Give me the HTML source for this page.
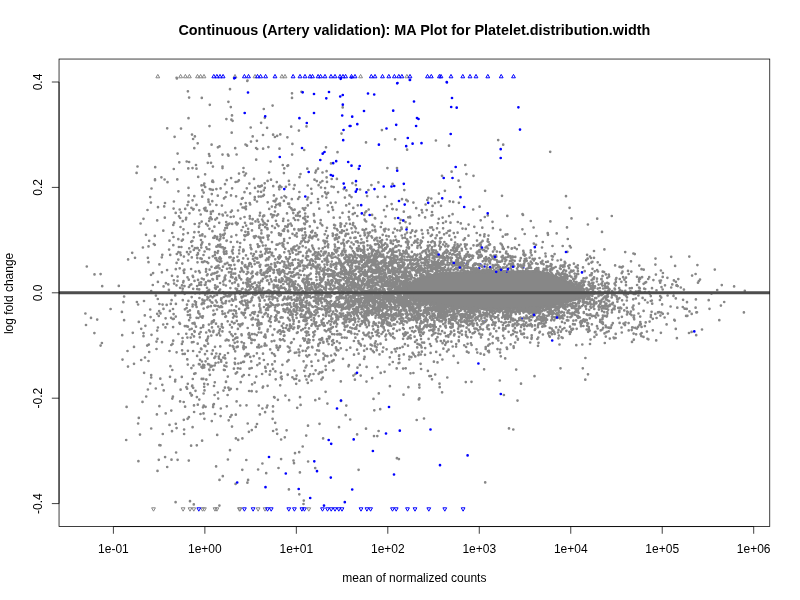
<!DOCTYPE html>
<html><head><meta charset="utf-8"><style>
html,body{margin:0;padding:0;background:#fff;}
svg{display:block;}
text{font-family:"Liberation Sans",Arial,sans-serif;}
</style></head><body>
<svg width="800" height="600" viewBox="0 0 800 600">
<rect width="800" height="600" fill="#fff"/>
<path d="M405 286L420 277L440 272L470 271L500 271L535 270L550 273L565 279L578 287L588 292L598 294L590 296L575 301L560 305L540 309L500 310L460 309L440 306L420 302L405 298Z" fill="#878787"/>
<path d="M486 259h0M466.8 263.8h0M480.4 264.7h0M484.5 266.5h0M473.2 269h0M479.2 268.3h0M507 271.5h0M523.2 267.7h0M484.7 321.8h0M522 318.5h0M370.9 247.9h0" stroke="#0000ff" stroke-width="2.7" stroke-linecap="round" fill="none"/>
<path d="M329.2 362.6h0M368.9 269h0M357.2 301.4h0M615.1 265.4h0M247.9 294.1h0M346.9 283.2h0M384 305.5h0M236.5 337.5h0M331.2 296h0M536 310h0M363.4 294.9h0M394.6 306.9h0M374.8 298h0M247.6 271.8h0M346.9 229.8h0M605.4 305.4h0M473.5 175.8h0M387.1 285.8h0M325.6 366.1h0M198.9 364.2h0M440.8 309.6h0M279.7 258.1h0M419.7 273.2h0M312.9 247.8h0M252.2 272.8h0M490 244.4h0M204.6 300.7h0M345.4 235.9h0M372.7 350.8h0M374.2 271.2h0M382.5 271h0M471.2 313h0M229.9 345.6h0M349.6 319.3h0M577.3 316.5h0M337.7 258.2h0M412.6 263.5h0M357.3 293.8h0M626 285.2h0M384.8 266.1h0M199.2 289.4h0M402.4 282.5h0M357.8 316.2h0M288 317.9h0M414.9 280.3h0M235.2 351.3h0M431 265h0M364.1 273.2h0M208.4 199.7h0M220.6 188.4h0M364.4 320h0M323.4 255.2h0M574.8 299.6h0M535 312h0M575.7 284.5h0M368.3 256.7h0M413.4 306.7h0M497.5 349.1h0M601.6 279.1h0M436 253.7h0M279.3 189.3h0M491.8 315.8h0M262.1 297.4h0M465.8 228.9h0M231.9 321.8h0M546.8 272.7h0M408.4 284.7h0M440.1 249.3h0M392.4 308.6h0M390.1 276h0M424.4 259.1h0M255.7 288.3h0M426.6 319.5h0M583.5 278.4h0M201.5 366.9h0M548.3 308.5h0M424.3 304.2h0M388.2 330.7h0M441.2 257.5h0M365 270.4h0M591.6 280.2h0M425.8 257.7h0M447.6 262.3h0M591.9 324.3h0M180.1 287.8h0M400.1 285.3h0M437.5 362.4h0M190 314.9h0M587.3 323h0M619.3 311.9h0M243 227h0M490.1 308.9h0M513 324.9h0M382.8 313.4h0M404.7 291.1h0M354.7 333.8h0M373.6 262.8h0M258.3 186.2h0M598.4 292.8h0M576.6 287.1h0M538.9 315.8h0M252 334.1h0M392.6 307.6h0M187.9 350.8h0M219.2 214.2h0M317.1 350.3h0M564.7 280.3h0M439.7 307.2h0M336.2 268.9h0M405.1 276.8h0M410.7 319h0M417.9 307.5h0M494.4 259.5h0M320 342.8h0M338.4 283.6h0M163.6 286.4h0M355 285.1h0M189.1 320.2h0M433.5 268.4h0M665 285.3h0M470.2 272.4h0M178.3 239.2h0M500 252h0M208.2 263.1h0M197 255.2h0M194.9 248.2h0M254.5 282.9h0M204.5 390.4h0M309.8 262.8h0M420.2 253.8h0M202.4 317.7h0M243.4 305h0M404.7 303h0M378.5 305.1h0M440.2 268h0M285.2 248.8h0M476.8 323.4h0M557.9 332.5h0M357.2 325.2h0M405.8 321.3h0M416.6 318.5h0M355.5 313.2h0M442 264.7h0M589.6 294.9h0M512.1 256.7h0M335.4 293.3h0M388.8 295.4h0M403.4 304.1h0M389.8 281h0M396.7 281.2h0M579 307.3h0M419.9 316.1h0M588.9 292.5h0M211.7 219.2h0M363.5 302.8h0M208 343.7h0M414.2 313.6h0M453.4 313.8h0M291.7 225.7h0M472.8 316.4h0M387 318.1h0M269.1 296.5h0M284.4 304h0M224.9 387.7h0M329.8 276h0M420.4 314.1h0M198 254.1h0M631.5 315.1h0M671.2 287.5h0M462.5 228.6h0M409.4 303.1h0M226.8 240.5h0M404.5 256.7h0M375.5 307.9h0M216.2 258.1h0M334.5 249.5h0M202.6 302.6h0M396.7 310.1h0M479.6 206.7h0M367.2 263h0M520.1 271.4h0M165.7 413.4h0M359 331h0M440.5 242.1h0M203.5 413.4h0M186.6 308.1h0M374 273h0M389.3 264.9h0M222.6 313.9h0M256.1 251.7h0M259.3 225.6h0M205 210.2h0M403.3 289.4h0M348.4 241h0M313.3 336.6h0M446.5 309.7h0M364.4 297.9h0M395.5 284.6h0M369.9 305.7h0M358.2 298.5h0M386.2 235.8h0M355.3 276.6h0M480.3 334.5h0M234.2 310.4h0M313.1 289.5h0M606.4 298.1h0M586.5 288.4h0M307 287.2h0M396.4 288.2h0M374.8 295.1h0M386.5 301.4h0M511.5 261.2h0M203.3 378.9h0M202.9 316.3h0M370.2 291h0M201.7 258.8h0M307.4 287.5h0M464.2 317h0M412.3 230.8h0M383.8 306.6h0M249.8 216.2h0M517.6 311.6h0M458 362.8h0M200.7 332h0M551.8 306.4h0M259.6 299.6h0M430.6 274.7h0M228.4 387.7h0M315.3 306.3h0M307.3 221.3h0M319.9 277.1h0M393.7 298.6h0M326.1 300.7h0M213.2 181.9h0M452.1 264.4h0M312.4 324.1h0M204.4 345.7h0M660.9 332.8h0M319.9 269.2h0M423.9 310.4h0M178.9 247h0M267.5 235.7h0M550.8 332.5h0M528.5 263.6h0M436.9 273.2h0M356.6 307.2h0M525.3 317.9h0M443.1 254.8h0M338.4 350.3h0M548.8 315.4h0M508.5 268.4h0M168.9 289.9h0M534.6 271.4h0M424.6 269.1h0M492 311.3h0M516.3 336.4h0M307.3 296h0M272.1 292.2h0M477 240.6h0M410.2 278.9h0M652 288.2h0M467.6 343.8h0M575.8 305.9h0M562.3 277.6h0M218.2 398.6h0M373.2 259.4h0M345.1 317.4h0M457.8 322.8h0M210.8 189.4h0M445.9 221.6h0M561.8 303.9h0M281.6 376.5h0M451.3 317.4h0M420.6 243h0M453.4 250.4h0M596.9 281.5h0M403.4 220.4h0M199.5 313.9h0M338.1 282.9h0M283.9 335.8h0M368.6 308.4h0M529.2 308.3h0M343.6 290.8h0M397.1 348.4h0M680.8 287.5h0M600 307h0M220.3 346.4h0M167.5 182.2h0M389.2 282.9h0M392 294.9h0M403.8 253.1h0M316.1 170.7h0M215 414h0M333.1 257.5h0M420 260h0M524.3 329.3h0M248.3 272.5h0M307.3 341.9h0M367.6 284.6h0M401 311.3h0M339.3 302.2h0M399.9 255.1h0M404.3 286.9h0M391.9 287.1h0M590 275.3h0M372.3 269.3h0M398.2 266.6h0M394.5 273.9h0M385.7 274.3h0M409.4 356.6h0M372.2 270.6h0M563.9 276.5h0M303.7 268.4h0M518.9 308.3h0M402.2 256.4h0M459.6 332.9h0M306 289.9h0M216.7 260h0M505 319.1h0M394.1 318.2h0M360.6 274.3h0M275.3 207.2h0M520.4 331.3h0M364.3 284.2h0M289.9 320.5h0M339 297h0M513.7 324.5h0M595.5 331.8h0M325.9 286.5h0M318.2 294h0M601.7 322.8h0M361.4 239.3h0M317.6 328.8h0M512.9 310.2h0M339.5 260.3h0M445.4 270.3h0M363.1 283.8h0M308.4 264.7h0M221.5 247.2h0M272.4 296.2h0M567.6 302.6h0M340 232.4h0M400.8 296.1h0M400.8 258.7h0M364.3 295h0M474.5 315.2h0M229.5 292.9h0M366.5 283.1h0M466.6 312.5h0M273.5 272.8h0M362 315.5h0M427.1 314.8h0M367.8 314.1h0M570.5 306h0M425.5 271.8h0M372.3 281.2h0M651.8 300.6h0M340 287.6h0M433.7 268.1h0M437.4 264.5h0M402.3 321h0M373.7 322.7h0M628.7 330.4h0M377.5 296.2h0M291.3 306.9h0M205.6 406.8h0M558.9 335.6h0M304.8 284.4h0M257 201.5h0M321.4 379.5h0M205.1 294.8h0M426.8 327.1h0M409.9 302.3h0M170 376.8h0M417.6 265.1h0M305.8 324.8h0M228.8 293.7h0M436.5 265.1h0M199.3 210.3h0M500.8 356.3h0M583.7 282.8h0M461.1 267.8h0M290.4 272.2h0M381.3 315.1h0M497.9 311.3h0M322.4 371.8h0M184.9 309.3h0M501.8 244.7h0M388 309.8h0M594.7 271.3h0M387.7 297.9h0M503.7 308.4h0M487 327.3h0M188.6 195.4h0M418.2 317.4h0M413.4 373h0M283.1 221h0M284.1 241h0M195.5 271.6h0M448.4 245.8h0M453.2 309.4h0M698 282.7h0M248.3 233.4h0M303.2 265.6h0M373.4 276.9h0M544 269.8h0M567 275.1h0M351.3 255.4h0M235.2 338.5h0M588.7 282h0M422.5 233.8h0M311.2 260h0M515.8 314.1h0M241.9 198.7h0M317.9 303.7h0M456.6 260.1h0M510.7 271.7h0M300.5 295.6h0M405.5 222.1h0M375.3 295.8h0M376.9 310.8h0M266.7 407.5h0M452.3 310h0M588.1 331.8h0M521.3 334h0M576.6 287.2h0M271.1 316.3h0M360.4 324.7h0M233.9 368.7h0M379.8 290.4h0M482.5 321.3h0M600.1 291.6h0M403.4 274.3h0M214.8 382.3h0M338.9 305.8h0M496.6 311.3h0M483 329.6h0M286.8 277.9h0M403.2 287.5h0M277.4 262.7h0M382.3 326.4h0M417.4 279.4h0M605.1 283.5h0M405.9 294.8h0M244.9 312.8h0M207.5 358.7h0M522.7 268.3h0M630.3 313.9h0M209.2 289.9h0M388.8 236.4h0M643.6 310.9h0M423.6 276.8h0M424 316.3h0M280.4 293.3h0M454.8 265.3h0M422.8 315.3h0M432 335.4h0M432.6 318.7h0M425 276.8h0M197 248.2h0M309.6 284.5h0M537.8 308.2h0M356.7 279h0M415.9 279.6h0M296.5 293.6h0M407.2 260.5h0M525.1 310.4h0M461 262.5h0M293.7 218.2h0M182.3 263.6h0M223.2 357.6h0M446.5 250.2h0M456.5 319.1h0M580.1 322.4h0M433.6 268.9h0M249.8 335.6h0M566.1 275.5h0M311.4 319.8h0M604.9 297h0M259.1 347.4h0M214 320.3h0M411.9 282.6h0M618.5 318.1h0M249.1 375h0M433.6 326.8h0M307.8 205.4h0M641.3 336.1h0M574 279.2h0M429.7 245.4h0M384.7 279.6h0M333.9 343h0M300.5 261.4h0M360.5 286.2h0M193.5 342h0M319.9 283.2h0M354.4 253.2h0M532.5 308.8h0M207.1 299.5h0M361.7 293.4h0M441.1 262.2h0M565.3 262.9h0M458.2 261.1h0M183.6 270.6h0M350.7 269h0M381.5 323.4h0M462.4 321.6h0M242.1 300.8h0M607.3 277.9h0M242.3 270.5h0M387.2 321.5h0M286 328h0M313.8 249.5h0M401.5 292.5h0M307.3 348.3h0M485.7 272.5h0M197.9 253.1h0M188.1 260.5h0M376 273.1h0M435.4 317.5h0M639.1 287.7h0M397.9 287.8h0M175.8 316.6h0M374.5 298.5h0M381.9 302.9h0M309 237.3h0M217.3 286.8h0M508.4 271.6h0M598.5 296.2h0M349.8 304.7h0M180.8 255.1h0M442.5 318h0M402.6 346.9h0M398.7 245.3h0M365.4 307.3h0M306.7 277.9h0M348.8 297.3h0M320.9 279.3h0M410.3 256.7h0M395.4 262.4h0M452.2 308.1h0M258.6 262.6h0M380.2 280.8h0M398.3 287.9h0M366.9 274.3h0M600.2 301.3h0M601.3 279.2h0M474.3 311h0M384.1 295.4h0M287.3 227h0M369.4 261h0M392.9 243.9h0M243.8 375h0M387.2 244.8h0M409.7 338h0M576.1 320.3h0M459.3 307.5h0M339.3 282.6h0M278.2 273.3h0M332.1 275.8h0M639 303.6h0M444.1 340.7h0M237.9 328.9h0M162.3 384.8h0M298.1 328.1h0M399.5 268.4h0M446.5 253.1h0M614.7 295.2h0M440.9 267.5h0M199 271h0M326.4 284.7h0M317.9 267.1h0M223.8 234.9h0M572.2 307.9h0M582.7 302.1h0M429.5 307.5h0M404.2 300.3h0M388.6 291.3h0M448.5 311.9h0M360.2 235.8h0M337.4 251h0M226.5 366.5h0M286.3 267.6h0M548.5 309.2h0M407 232.6h0M344.4 271.3h0M411.2 278.6h0M561.9 305.7h0M386.1 263.3h0M245.2 266.9h0M369.5 290h0M293.7 188.8h0M717.2 290h0M556.5 273.9h0M179 216.3h0M293.9 276.4h0M584.7 302.5h0M531.7 337.7h0M184.7 293.8h0M428.8 274.6h0M493.2 267.6h0M444.9 190.8h0M417.2 263.8h0M176.5 285.3h0M579.5 300.2h0M380.4 304.4h0M246.9 307.9h0M511.7 248.7h0M355.2 253.8h0M427 274.8h0M439.7 263.5h0M257.2 258.7h0M302.7 270.8h0M358.3 281h0M389.5 296.9h0M375.7 259.5h0M439.7 387.2h0M640.8 324.1h0M349.4 219.4h0M252.7 219.2h0M375.2 285.1h0M376.4 277.2h0M457 316.4h0M320.2 285.1h0M607.6 294.4h0M391.8 283.3h0M289.5 298.2h0M434.7 264h0M192.5 323.3h0M458.9 326.5h0M441.5 238h0M462.5 316.8h0M376.7 314.7h0M358.2 310.6h0M455.3 316.8h0M378 307h0M343.1 313.5h0M429.4 376.1h0M449.9 253h0M277.7 305.6h0M261.8 185.7h0M220.8 408.5h0M425.1 264.8h0M560.9 331.7h0M292.7 252.7h0M198.7 232.1h0M375.8 266.8h0M430.9 304.9h0M744.8 290.9h0M378.4 182.4h0M205.6 361.3h0M573.6 284.4h0M305.1 237.8h0M598.2 315.5h0M382.7 316.6h0M356.1 327.4h0M584.6 320.7h0M588.2 323.5h0M317.7 258.7h0M385.5 228.9h0M374 270.4h0M254.7 283h0M289.4 286.7h0M533.6 311.3h0M488.2 308.4h0M535.6 270h0M428.2 263.3h0M630.9 311.6h0M577.5 315.8h0M505.5 257.6h0M409.8 223.6h0M593.5 306.6h0M383.4 289.4h0M209.3 244.1h0M493.2 258.4h0M275.4 371.4h0M414.7 300.9h0M254.7 340.1h0M379.1 268.9h0M253 292.8h0M338.1 241.9h0M353.6 324.7h0M506.2 326.1h0M308.7 317.8h0M505.3 328.7h0M332.6 254.3h0M401.2 310h0M214 386h0M412.6 304.6h0M427.4 268.6h0M477.7 317.3h0M395.8 277.7h0M304.7 265.9h0M390.9 335.5h0M569.3 282.3h0M634.1 315.5h0M494.6 249.3h0M485.7 347.2h0M428.9 250.7h0M651.6 311.8h0M378.4 306.7h0M499.6 312.3h0M411.9 314.8h0M288.6 251.2h0M530.8 261.7h0M502.9 267.6h0M219.3 240.3h0M325.8 316.1h0M462.4 259.9h0M238.4 286h0M372 251h0M291.3 248.9h0M499 327.9h0M486.5 269.4h0M361.1 260.3h0M335.9 303.6h0M182.5 291.7h0M308.8 376.4h0M388.4 271.9h0M345.9 276.8h0M566.1 270.9h0M225.7 301.8h0M300.8 275h0M393.8 328.5h0M354.6 302.8h0M564.1 269.9h0M197.3 258.1h0M498.6 270.7h0M412 256.8h0M408.4 387.2h0M438.5 307.8h0M306.7 331.5h0M359.5 263.9h0M455.2 307.3h0M594.3 309h0M206.3 247.3h0M227.6 225.2h0M212.3 201.2h0M400.5 290.4h0M618.2 299.1h0M404.5 277.2h0M444.1 310.7h0M233.3 247h0M311.1 202.8h0M315.5 256.1h0M384.2 289h0M602 311.1h0M261.4 230.4h0M221.7 326.6h0M396.1 256.5h0M323.3 318.8h0M494.5 324.7h0M393.9 269.4h0M462.7 314h0M294.9 235.4h0M352.8 257.3h0M311.9 306.3h0M398.6 273.9h0M401.7 283.3h0M305.2 321.2h0M572.3 315.4h0M390 285.7h0M350.4 237.9h0M439.2 317h0M298.4 274.4h0M292.8 265h0M424.6 303.5h0M357.1 349.7h0M403.8 329h0M235.1 358.6h0M565.6 309.3h0M343.4 264.1h0M331.8 314.3h0M452.4 309.6h0M227.6 395h0M476.5 349.3h0M597.7 328.5h0M501 309.8h0M363 289.2h0M242.6 323.6h0M632.6 307.4h0M378.7 312.8h0M382.8 289.7h0M468.6 224.6h0M550.1 307.3h0M447.1 264.5h0M289.8 309.6h0M470.9 343.3h0M295.5 281.4h0M354.6 256h0M647.6 302.5h0M338.6 307h0M449.8 271.4h0M175.9 303.9h0M441.1 315.7h0M270.3 371.2h0M396.6 209.6h0M537.1 318.3h0M345.1 327h0M283.4 244.3h0M322.3 225.5h0M259.8 282.8h0M375.4 283.1h0M208.5 297.6h0M376 309h0M366.7 313.4h0M467.5 261.7h0M467.4 271.9h0M280.7 288.1h0M380.6 295h0M215.3 258.2h0M369.9 312.2h0M264.6 291.9h0M367 302.5h0M382.7 277.5h0M212.6 180.5h0M385.1 299.1h0M470.8 309.5h0M554.1 320.3h0M378.5 332.9h0M364.1 359h0M575.2 303.1h0M206.9 262h0M203.5 255h0M286.1 197.3h0M368.8 256.3h0M371.5 294.5h0M296.7 287.9h0M494.5 258.4h0M283.5 246.7h0M288.5 352h0M578.3 287.1h0M314.4 311.7h0M360.3 305.6h0M396.1 261.1h0M592.8 284.9h0M340.8 348.3h0M510.7 268.3h0M377.7 325.8h0M293.7 320h0M264.1 336.7h0M271.5 232.3h0M352.9 301.1h0M385.6 319.9h0M566.8 320.3h0M438 261.2h0M592.3 299.5h0M251.8 266.6h0M315.5 285.8h0M482.7 261.3h0M492.1 256.7h0M610 327.5h0M364.6 235.3h0M396.5 246.7h0M205.1 174.3h0M383.6 295.1h0M529 318.4h0M348.1 261.9h0M590 256.5h0M331.5 327.9h0M349.3 318.9h0M429.2 251h0M383 324.1h0M225.9 285.5h0M332.3 254.6h0M370.7 294.8h0M296.1 250.4h0M357.3 241.4h0M412.3 315.5h0M356.9 248.4h0M390.2 249.4h0M330 308.5h0M426.7 210.1h0M357.3 216h0M238.9 180.4h0M393.4 295.3h0M524.4 337.3h0M229.7 332.1h0M433.3 229.8h0M229.3 257.3h0M415.7 264.1h0M360.4 305.7h0M583.9 285.2h0M564.9 305h0M586.3 293.7h0M412 331.1h0M383 278.4h0M362.8 280.5h0M348.6 261.7h0M377.9 330h0M426.4 273.7h0M517.8 264.4h0M259.8 255.5h0M603.1 288.5h0M292.4 377.3h0M351.6 276.5h0M262 290.3h0M284.2 271.2h0M392.5 258.1h0M200.7 214.5h0M267.8 364.3h0M341.4 290.5h0M402.3 293.2h0M474.3 226.8h0M662.8 313.8h0M496.4 271.5h0M399.8 304.6h0M440.8 341h0M410.1 328.2h0M450.1 322.2h0M448.5 269.8h0M380.4 302.7h0M389.4 262.8h0M197.7 248.1h0M528.5 310h0M429.5 265.9h0M365.2 263.3h0M398.6 363.2h0M375.1 293.6h0M402.7 282.5h0M415 236.1h0M172.8 319h0M351.6 304.9h0M239.6 277.7h0M337.6 306.4h0M354.9 283.1h0M165 203h0M692.1 275.6h0M220.3 244.6h0M416.7 314.5h0M291.1 297.7h0M313.9 321.4h0M380.1 301.7h0M435.2 245.2h0M343.1 290.5h0M459.7 307.8h0M294.1 269.3h0M210 281.2h0M544.2 323.9h0M371.4 185.1h0M257.2 287.2h0M187.4 337.6h0M453.9 311.6h0M275 286.2h0M380.5 343.5h0M394.6 309.6h0M322.1 338h0M448.4 268.4h0M292.6 210.2h0M243.7 250.7h0M606.2 287.8h0M456.2 272.5h0M240.5 218.6h0M315.4 172.6h0M385.1 269.8h0M296.9 236.6h0M550.4 269.4h0M396.9 330.9h0M359 306.9h0M601.7 308.7h0M413.3 320h0M548.6 312h0M415 316.4h0M526.2 269.2h0M486.8 312.9h0M502.5 259.3h0M326.3 197.6h0M407.9 243.6h0M441.2 269.3h0M412.8 310h0M403.7 281.2h0M592.4 291.8h0M250.4 245h0M410.2 302.8h0M382.6 290.2h0M659.1 312.1h0M366 300.7h0M621.5 327.5h0M361.3 301.9h0M470.2 308.6h0M318.4 252.4h0M511.3 317.8h0M353.3 293.8h0M501 268.9h0M390.9 315.3h0M430.9 253.5h0M598.9 309.6h0M445.5 320.2h0M308.9 312h0M382.2 314.2h0M237.5 291.1h0M464.3 309.1h0M510.1 256h0M291.4 280h0M390.9 263.3h0M635.8 298.5h0M468.9 321.1h0M418.6 329.7h0M367.7 258.6h0M402 199.2h0M394.4 285.3h0M217.5 271.8h0M347.7 289.9h0M541.2 323.4h0M353.2 223.2h0M386 268.1h0M321.1 278.3h0M548.9 306.9h0M229.6 294.9h0M273.2 186.2h0M173.8 280.3h0M396.9 302.4h0M543.1 318.8h0M351.4 282.3h0M302.9 316.9h0M233.1 317.6h0M371.6 311.4h0M257.2 258.2h0M373.6 293h0M419.7 257.4h0M567.5 317h0M372.1 297.2h0M269.4 299.2h0M301.6 288.5h0M377.4 240.7h0M366.3 255.7h0M368.6 315.2h0M419.7 267.3h0M240.3 271.8h0M235.6 288.5h0M345.7 290h0M473.3 325.8h0M390.3 303.1h0M334.6 314.2h0M544.5 326.2h0M242.1 324.5h0M289.6 310.8h0M456.8 265h0M344.7 268.1h0M328.6 344.1h0M236.6 401.4h0M353.2 309.2h0M464.3 258.2h0M172 275.8h0M391.1 241.8h0M262.4 408.5h0M652.8 330.3h0M473.5 309.7h0M412.3 282.5h0M666.6 324.4h0M232.7 249.8h0M521.4 325.1h0M481.4 316.8h0M296.5 352.5h0M447.9 306.2h0M309.1 305.3h0M426.9 315h0M377 331.3h0M328.9 315.6h0M244.8 301.2h0M319 290.7h0M390.1 276.1h0M439.2 307.2h0M271.5 304.3h0M434.8 265h0M289.7 268.8h0M379 295.1h0M351.5 292.8h0M410.6 301.9h0M375 244.3h0M336.4 316.2h0M542 320.6h0M365.9 299.9h0M491.1 268.6h0M545.7 318.1h0M357.6 294.3h0M338 287.2h0M392.3 265h0M461.1 318.9h0M540.7 318.4h0M467.3 254.1h0M322.2 261.6h0M425.7 305h0M342.3 271.3h0M300.4 243.5h0M311.2 188.8h0M506.3 251.7h0M408.6 320.3h0M340.5 225.5h0M256.1 273.8h0M339.4 284.6h0M274.1 287.2h0M614.6 283.7h0M491.9 309.8h0M182.7 341.7h0M305.6 296.1h0M365.2 297.4h0M267.4 405.5h0M378.1 293.6h0M557.1 312.8h0M503.9 272h0M229.5 310.5h0M590 315.1h0M367.6 245.4h0M365.2 276.1h0M188.9 417.2h0M356.7 295.1h0M384.6 231.3h0M382.1 245.9h0M302 307.4h0M187.3 359.4h0M527.5 318.1h0M213.4 310.5h0M475.2 314.6h0M400.6 219.8h0M503.1 335.8h0M467.4 261h0M359.7 285.6h0M334.7 353.8h0M597 278.7h0M467.3 264.1h0M376.6 280.3h0M543.6 264.3h0M231.7 305h0M266.7 270.9h0M503.2 313.5h0M528.5 309.3h0M389.1 316.1h0M294.6 185.2h0M284.8 273.6h0M307.3 318h0M388.1 300.8h0M428.4 197.8h0M211.1 365.9h0M455.3 255h0M275.9 317.6h0M251.7 391.2h0M452.8 315.1h0M582.7 297.7h0M196.5 204.9h0M414.7 312.3h0M385.8 282.5h0M352.7 256.5h0M329.2 338.5h0M382.6 351.7h0M650.9 315.1h0M205 354.2h0M584.7 271.2h0M273.1 304.9h0M406.9 247.5h0M542.9 334.5h0M339.4 292.9h0M194.7 224h0M180.3 252.7h0M583.8 312.2h0M464 263.1h0M631.8 288.1h0M498.3 315.3h0M390.1 324h0M423 334h0M380 297.4h0M395.6 299.6h0M510.1 310.2h0M600.7 330.4h0M589.9 283.8h0M262 254.8h0M549.2 335.8h0M275.3 265.4h0M399.2 359.1h0M363.3 309.4h0M464.8 311.1h0M296.4 304.9h0M462 318.6h0M418.5 305.8h0M548.2 333.4h0M550.9 312.4h0M379.9 241.6h0M423.5 322.4h0M434.4 321.2h0M351 298.6h0M636.1 334.3h0M469.2 256.8h0M357.4 289.9h0M425.2 325.4h0M259.2 329.1h0M465.7 313.8h0M540 309.1h0M305.2 219.4h0M351.6 262.8h0M355.8 274.2h0M361 286.7h0M370.7 306.3h0M413.8 332.1h0M412.5 298.8h0M406.3 269.1h0M403 291.2h0M252.8 276.2h0M537.6 317h0M283.3 328h0M430.3 324.6h0M550.1 311h0M247 290.9h0M401 254h0M562.7 315.4h0M212.4 231.2h0M337.5 315.6h0M563.6 277.9h0M481.8 265.7h0M374.1 298.8h0M314.5 253.9h0M505.9 308.9h0M231.9 210.7h0M364 275.2h0M405.5 267.9h0M205.5 207.9h0M295.1 287.4h0M289.9 253.9h0M248.2 232h0M453.6 355.9h0M329.3 284.3h0M366.7 275.9h0M265.6 337.6h0M509.7 315.6h0M497.9 266.2h0M476 308.1h0M501.6 272.4h0M400 265.7h0M262.7 387.6h0M278.7 347.7h0M337.1 331h0M584.3 298.9h0M648.4 339.3h0M326.9 339.2h0M404.1 307.7h0M399 355.9h0M302.7 235.5h0M383.7 273.2h0M597 326.2h0M563.6 305.4h0M295.2 220h0M232.6 260.3h0M355.6 308.7h0M459.4 252.1h0M285.3 226.3h0M283.8 298.8h0M590.4 286.1h0M468.3 316h0M270.3 302.3h0M386.2 274.7h0M513.1 270.7h0M307.5 276.6h0M391.9 276.7h0M380.7 276.6h0M440 311.7h0M364.4 257.1h0M556.3 275.1h0M324.4 289.1h0M278.7 330.9h0M303.5 305.4h0M209.3 249.3h0M355.4 337.7h0M552.6 312h0M541.9 307.8h0M352.7 263.3h0M350.1 270.1h0M429.8 304.8h0M435.9 250.6h0M411.4 304.1h0M422.1 342.5h0M674.3 319.9h0M404.4 275.8h0M234.7 362.8h0M473.5 265h0M427.7 308.4h0M484.4 259h0M408.6 314.5h0M366.1 294.9h0M383.3 255.8h0M436.5 308.6h0M423.4 262.8h0M614.1 338.3h0M315.4 261.8h0M340.4 296.2h0M417.3 299.8h0M406.3 288.9h0M305.3 327.8h0M407.1 298.3h0M392.8 277.8h0M231 276.9h0M366.9 298.9h0M245 236.1h0M238.8 260.4h0M390.8 289.9h0M321.8 290.7h0M516 311.5h0M433.3 252.2h0M354.5 292.3h0M203 292.8h0M485.7 261.2h0M331.3 319h0M341.2 313.5h0M316.8 181.1h0M282.6 270.3h0M391 305h0M404.3 284.4h0M341.9 337.6h0M574.5 284.8h0M398.4 315.8h0M361 345.6h0M570.7 332.1h0M385.4 315.6h0M309 328.4h0M221.2 298.3h0M307.3 267.4h0M349.3 203.8h0M399.3 289.5h0M535.1 321h0M376.1 293.6h0M237.7 223.6h0M215 252.2h0M601.5 301.7h0M440.1 270.7h0M306.5 335.6h0M258.1 324.5h0M362.6 257h0M366.4 306.5h0M492.9 228.2h0M219.7 261.8h0M245.9 209.2h0M317 310.4h0M479.9 313.5h0M573 284.7h0M347.1 301.2h0M261.1 291.1h0M273.5 297.4h0M335.4 283.1h0M292.3 313.9h0M308.2 256.4h0M638.5 313.5h0M380.2 246.9h0M388.2 296.8h0M176.6 262.9h0M276.8 182.1h0M329.2 296.6h0M355.6 237.7h0M383.9 307.3h0M302.9 291.2h0M412.3 230.3h0M514.2 266.3h0M327.5 305.6h0M571.4 329h0M604.1 272.1h0M213.3 404.9h0M384.6 276.4h0M347.7 264.4h0M602.3 329.5h0M514.7 247.7h0M464.4 268.3h0M438.3 333.6h0M553.7 268.1h0M356.4 328.8h0M232.9 259.9h0M455.1 308.7h0M501.6 256.9h0M340.5 272.8h0M427.8 310.3h0M467.3 314.6h0M376.4 264.5h0M329.2 312.1h0M305.1 216.5h0M422.3 314.8h0M392.6 280.7h0M192.1 386.2h0M336.9 297.4h0M301.2 330.3h0M391.2 310h0M237.4 341.9h0M558.1 306.8h0M424.9 271.8h0M429.6 274.5h0M590.2 302.9h0M404.3 298.2h0M389.1 263.2h0M406.3 297h0M638.1 326.8h0M337.1 281.1h0M300.1 302.9h0M314.7 297h0M402.5 275.8h0M160.3 378.7h0M316.3 236.5h0M624 294.3h0M414.3 318.5h0M396.6 259.6h0M242.5 313.4h0M355.5 373.9h0M481.4 318.6h0M555.2 307.5h0M231.4 236.7h0M267.6 280.4h0M588.5 294.6h0M402.8 290.2h0M375.5 287.6h0M365.4 317h0M516.5 310.7h0M290.3 265.8h0M558 308.7h0M358.4 301.3h0M403.9 286h0M401.8 302.1h0M607.3 312.1h0M275.9 277.6h0M370.7 290.4h0M335.1 267.6h0M387 282.8h0M433.5 334.1h0M205.4 210.5h0M197.1 286h0M393.6 293.4h0M194.9 301.4h0M357.7 310.6h0M467.1 272.3h0M229.7 268.2h0M578.5 301.3h0M348.5 366.3h0M366.9 263.7h0M394.7 284.8h0M449.1 216.1h0M299.4 192h0M214.5 237.7h0M398.3 298.3h0M220.2 335.5h0M390.3 256.9h0M445.9 319.6h0M386 276.4h0M270.7 267.5h0M261.4 233.4h0M307.3 260h0M337.5 273.5h0M223.8 251.9h0M383.6 301h0M447.5 316h0M223.9 249.5h0M448.2 335.4h0M640 291.4h0M206.3 340.4h0M477.3 352.6h0M420.9 354.5h0M172.2 233h0M502 195.8h0M364.4 251.5h0M677.7 286.1h0M390.6 289.4h0M393.3 248.5h0M347.6 283.2h0M263.1 386.6h0M340.4 261.3h0M223 266.7h0M336 314.7h0M311.4 361.7h0M621.7 273.2h0M396.4 300.9h0M295.3 300.7h0M249.8 218.6h0M621.8 332.5h0M602.6 281.6h0M299.4 352.5h0M438.2 264.9h0M408.8 319.5h0M209.4 244.5h0M230.7 217h0M375.1 290.1h0M351.8 287.5h0M468.6 352.6h0M622.2 291.1h0M401.9 297.1h0M430.1 227.5h0M438.1 261.1h0M419.9 308.2h0M526.3 310h0M576.6 282.2h0M404.3 308.3h0M573.9 263.7h0M488.8 261.5h0M503.8 248.9h0M429.5 314.1h0M214.9 236.1h0M364 247.2h0M205 236.5h0M468.1 271.3h0M368 260.5h0M290.1 303.3h0M416.2 208.2h0M401.6 298.7h0M368.2 314.4h0M374.8 298.7h0M382.4 268h0M593 287.1h0M412.5 270.1h0M496.3 331.2h0M313.5 374h0M301.7 306.9h0M453.2 201.9h0M407.7 201.2h0M293.7 286h0M286.7 309.4h0M453.5 312.4h0M231.9 327.4h0M189.6 329.5h0M234.6 323h0M432.6 325.2h0M305.7 293.9h0M492.9 314h0M432.6 269.2h0M334.4 228.1h0M473.8 315.1h0M471.8 322.4h0M417.6 305.8h0M355.3 269.8h0M464.5 315.4h0M261 196.6h0M382.2 280.5h0M414.4 278.2h0M190.3 317.6h0M583.4 300.1h0M352.2 273.9h0M382.8 296.4h0M229.3 390h0M291 327.1h0M592.2 289h0M376.7 350.2h0M417 259.2h0M334.2 288.4h0M599.2 305.3h0M624.3 310.4h0M551.3 272.6h0M323 292.9h0M371.7 261.4h0M288.9 180.9h0M413.5 303.3h0M390 294.9h0M469.9 331.9h0M588.8 328.8h0M524.1 325.5h0M342.3 286.5h0M343.8 274.4h0M203.8 279.4h0M366.1 272.1h0M278.1 294.2h0M440.4 247.2h0M607 305.8h0M460.9 322.3h0M273.1 368.9h0M371.9 333.1h0M421.9 241.4h0M434.3 261.7h0M347.5 312.6h0M311.5 380.5h0M473.2 256h0M277.9 294.8h0M592.4 285.2h0M411.3 275h0M368.6 298.1h0M391.6 250.9h0M368.1 277.4h0M696.4 312.4h0M377.7 196.8h0M195.5 373.3h0M233.7 258.1h0M369.1 322.3h0M207 287.8h0M213.5 330.9h0M578.2 303.1h0M248.5 334h0M351.4 264.8h0M379.4 280.9h0M329.4 295h0M374.8 256.8h0M451.1 327.7h0M457.8 261.8h0M634.2 319.3h0M279.7 243.5h0M302.3 300.2h0M358.6 288h0M543.1 317.7h0M436.7 265.2h0M400.8 281h0M401.3 293.1h0M338.8 299.2h0M173.2 340.7h0M534.8 312.6h0M279.6 255.4h0M315.9 323.6h0M333.1 340.1h0M383 300.6h0M278.9 258.8h0M335.7 292.6h0M496.6 260h0M328.3 303.3h0M378.8 290h0M387.9 314.1h0M322.8 377.7h0M640.3 322.1h0M519 271.8h0M327.8 235.8h0M282.9 299.9h0M440.1 354.9h0M348.4 272.6h0M282.4 287.8h0M381.3 325.9h0M276.1 280.9h0M419.5 272.4h0M334.1 303.5h0M574.7 308.4h0M368.4 270.6h0M398.5 286.1h0M294.8 352.8h0M453.8 315.2h0M332.4 280.2h0M392.2 252.9h0M406.3 288h0M364.5 334.8h0M522.4 309.6h0M569.9 275.7h0M481.1 308.5h0M425.2 348.1h0M537.7 312.1h0M237.1 389.1h0M487.7 329h0M357 266.6h0M386.8 308.7h0M175.1 381.4h0M524 265.6h0M213.5 321.8h0M474.2 332.8h0M406.8 315.8h0M659.9 300h0M389.3 306.8h0M611.7 297.4h0M354.8 213.1h0M252 230.4h0M358.9 266.9h0M465.9 331.8h0M277 291.9h0M266.9 276.3h0M255.4 290.4h0M366.2 302.3h0M650 293.7h0M594.1 302.3h0M241.6 312.7h0M558.4 338.3h0M435.2 264.6h0M436.2 351.9h0M347.9 295h0M381.2 318.5h0M246.6 274h0M381.6 267.6h0M562.6 265.6h0M393 283.9h0M334.9 239.6h0M282.5 245.4h0M573.9 306.3h0M354 280h0M434.9 326.4h0M223.7 297h0M351.4 284.6h0M498.8 261.7h0M326.5 293.9h0M222.1 307h0M526.7 316.3h0M180 323.8h0M442.1 269.7h0M188.9 287h0M260.4 264.8h0M567.6 276.7h0M454.5 334.3h0M298.5 248.4h0M352.9 251.1h0M344.5 262.9h0M438.9 193.6h0M404.4 280.8h0M400.1 297.7h0M437.2 269.5h0M408.4 241.5h0M533.3 271.5h0M486.8 269.5h0M466.2 267.5h0M230.8 212h0M259.3 227.9h0M452.9 266.5h0M440.2 310.6h0M255 187.9h0M333 304.8h0M171.1 317.8h0M324.5 264.6h0M337.6 230.3h0M379.8 237.8h0M416 303.3h0M210.9 306.2h0M261.2 280.8h0M306.5 365.5h0M260.3 308.3h0M376.7 284.3h0M414.7 254.6h0M295 268.7h0M220.1 283h0M301.8 311.1h0M371.3 275.7h0M396.7 277.9h0M478.3 257.9h0M173.5 237h0M555.6 317.1h0M389.9 386.2h0M401.8 258.6h0M691.6 331.9h0M513 334.1h0M401.5 317.2h0M252.1 384.3h0M342.1 293.1h0M444.5 308.8h0M527 326h0M504.8 316.7h0M433.8 310h0M458.5 312.4h0M362 292h0M373.4 292h0M349.4 321.8h0M315.3 301h0M489 352.2h0M214.6 395h0M498 338h0M350 223.9h0M521.9 271.6h0M398.2 315.4h0M524.7 234h0M463.8 308.1h0M254.7 199.7h0M355.6 278.4h0M372.9 250.9h0M272 242.1h0M514 320.2h0M358.5 284.9h0M365.2 319h0M630.5 291.4h0M393.7 259.1h0M231.6 415.1h0M502.7 255.8h0M615.7 333.9h0M372.5 298.9h0M352.9 225h0M387.5 253.1h0M367 264.3h0M257.3 323.7h0M212.2 181.6h0M362.4 257.6h0M377.8 333.4h0M396.7 368.4h0M381.8 271h0M468.8 329.7h0M627 297.3h0M583.2 304.8h0M397 281.4h0M246.5 405.3h0M369.4 311h0M442.4 309h0M201.1 285h0M380.5 343.9h0M489 329.3h0M416.7 275.5h0M434 257.7h0M257.3 365.1h0M306.1 312.3h0M307.3 281.3h0M271.3 268.4h0M199.6 352h0M305.1 317.2h0M442.2 317.6h0M374.2 262.7h0M248.1 280.3h0M425.8 276.9h0M216.6 266.6h0M431.3 330h0M575.8 282h0M378.6 264h0M599.9 265h0M557.2 314.1h0M375.4 261.1h0M374.3 240.2h0M368.5 235.6h0M280.6 273.1h0M333.4 370.3h0M215.4 356.5h0M432 234.9h0M324.5 251.9h0M491.3 316.5h0M290.5 293.2h0M301.3 229h0M427.3 249.1h0M364 315.6h0M213.1 407.1h0M608.1 309.7h0M232.5 277.4h0M350.1 314.5h0M498.2 266.7h0M538.8 319.3h0M343.3 297.7h0M328.1 192.8h0M466.2 335.8h0M287.7 374.8h0M434.6 259.7h0M203.1 364.8h0M376.2 288.1h0M307.8 216.8h0M474 309.3h0M220.6 236.6h0M312.1 288.9h0M273 411.5h0M258.8 289.9h0M486.6 246.6h0M641.6 333h0M371 298.4h0M221.2 306h0M382.3 286h0M656.5 290.3h0M217 309.5h0M557.6 260.5h0M587.7 258.7h0M563.3 307.8h0M484.3 314.5h0M369.5 269h0M294.3 249.5h0M513.5 311.9h0M398.7 302.3h0M187.5 277.3h0M287.7 243h0M327.3 341.4h0M342 230.4h0M350.2 267.6h0M337.1 234.7h0M556.9 308h0M264.5 345.6h0M499.7 267.1h0M340.1 316.3h0M462.1 265.4h0M327.4 296.9h0M210.9 214h0M199.8 337.3h0M379.9 269.6h0M355 309.2h0M482.1 334.7h0M347.3 279.7h0M200.5 316.4h0M460.7 316.8h0M262.1 374h0M376.9 309.7h0M660.9 270.5h0M341 305.2h0M195.9 304.2h0M607.1 309h0M445.9 327.6h0M697.4 265.1h0M418.5 264.5h0M277.4 287.6h0M367.7 281.3h0M425.5 301.8h0M331.1 305h0M375 265.4h0M422.3 212.5h0M199.3 250.3h0M523 309.2h0M259.8 237.9h0M243.5 296.3h0M191.8 257.4h0M217 294.9h0M372.3 295.7h0M352.9 295.8h0M471.1 311.3h0M438.8 256.5h0M569.4 331.9h0M383.4 276.4h0M252.8 317.8h0M450.3 270.6h0M538.1 324.9h0M557 307.7h0M334.3 276.2h0M447.3 310.5h0M209.9 374.8h0M507.4 316.1h0M518.6 324.3h0M355.2 299h0M430.8 274.8h0M502.3 309.7h0M441.9 272.9h0M425.5 250.4h0M222.9 215.5h0M522.5 214.2h0M391.6 204.1h0M325.8 369.8h0M579.3 285.5h0M611.6 325.3h0M469.9 308.6h0M400.8 268.1h0M480.6 353.7h0M365.4 303.3h0M434.8 315.3h0M451.2 268.7h0M259.4 324.6h0M394.7 255.5h0M309 334.8h0M563.2 271.3h0M569.6 272.7h0M383.2 302.1h0M456.7 322.7h0M210.5 217.3h0M506.9 310.4h0M317.6 291.7h0M400.1 287h0M390.3 281.2h0M303.3 218.2h0M259.6 265.8h0M280.7 256.6h0M390.8 263.7h0M419.1 266.2h0M465.2 314.5h0M279.9 339.4h0M452.8 317.6h0M390.7 260.1h0M242.2 376.5h0M543 272.4h0M278.9 291.1h0M401.5 310.7h0M403.3 318.7h0M321.8 309.3h0M317.4 272.8h0M429.9 253.9h0M299.2 266.1h0M363.3 252.7h0M488.5 235.6h0M288.4 296.5h0M257.3 347.2h0M319.2 272.4h0M346.5 283.3h0M334.2 273.5h0M481.2 242.5h0M552.1 273.9h0M282.4 243.2h0M670.6 306.5h0M447.9 307.1h0M452.7 310.7h0M378.2 303.6h0M389.9 288.3h0M376.5 270.4h0M439.5 256.6h0M328.5 281.7h0M186.2 217.8h0M447.3 377.5h0M416.1 275.5h0M314.5 179.7h0M512.9 263.4h0M423.8 270.6h0M225.5 197h0M388.2 296.1h0M571.8 304.1h0M487.8 215.4h0M341 334.5h0M439.7 306h0M390.7 243h0M468.3 325.2h0M343.7 189.1h0M432 252.6h0M373.4 261.7h0M676.8 285.2h0M335.1 225.3h0M240.9 204.2h0M254.4 293.2h0M425.3 320.8h0M411.6 276h0M279.3 292.7h0M378.9 267.3h0M315.4 267.6h0M538.2 337.6h0M467.3 262.6h0M318.9 248.5h0M447.5 260.6h0M382.4 297.2h0M345.6 300.7h0M347.4 285.9h0M460.9 263.5h0M578.8 303.5h0M545.4 269.2h0M200 235.6h0M364.9 322.7h0M580.2 287.2h0M375.3 311.9h0M485.5 315.4h0M423.9 332.5h0M235.2 279.2h0M288.2 291h0M418.5 304.7h0M353.2 271h0M252.7 325h0M531.7 335.3h0M453.5 248h0M385.7 292.3h0M299.5 229.7h0M633.8 339.7h0M329 282.3h0M333 285.5h0M383.2 288.5h0M395.4 271.2h0M395.1 260.8h0M196.9 397.1h0M488.7 313.8h0M423.4 304.2h0M545.6 321.7h0M249.1 391h0M410 216.8h0M340.4 292.8h0M361.8 323.7h0M227 268.8h0M263.1 224.8h0M455.2 264.3h0M380.6 281h0M258.9 312.1h0M507.2 265.5h0M465.4 321.3h0M257.9 319.8h0M293.3 213.1h0M364.6 356.9h0M405.3 303.7h0M471.6 345h0M356.6 269h0M392.2 284.7h0M216.8 334.9h0M347.2 279.5h0M522.6 334.2h0M419.4 271.8h0M448.8 310.9h0M294.9 290.2h0M197.7 343.7h0M534.9 258.8h0M381.7 222.9h0M441.9 308.4h0M397.9 269.1h0M378.1 298.7h0M441.3 321.4h0M341.1 306.1h0M390.1 334.2h0M406.4 269.9h0M406.5 311.4h0M258.8 405.6h0M349.7 261.9h0M349.4 254.8h0M288.6 360.1h0M594 257.8h0M356.9 309.8h0M247 355.1h0M285.4 311.9h0M523.9 333.7h0M343.6 308.8h0M395.6 315.2h0M399.1 266.9h0M328.2 268.8h0M496 255.4h0M265.8 312.8h0M460.5 265.5h0M207.3 291.7h0M217.7 286.8h0M164.8 217.7h0M396.8 271.3h0M341 400.9h0M371.8 310.2h0M413.5 268.5h0M598.6 284.6h0M289.8 257.2h0M375.9 276.8h0M406.1 317.5h0M309.1 275.2h0M421.6 347.4h0M380.1 299.2h0M324.2 288.2h0M366.3 211.3h0M386 339.7h0M319.4 264.9h0M339.9 217.6h0M360.2 298.5h0M378.9 322.7h0M366.9 348.9h0M570.7 281.6h0M318.2 308.4h0M436.9 268.1h0M267.8 237h0M369.3 281.5h0M507.7 317.9h0M333.6 305.1h0M457.8 313.5h0M393.3 298.3h0M395.3 274.9h0M464 267.1h0M301.8 262.4h0M272.1 252.9h0M325.1 192.4h0M348.2 299.4h0M268.6 290h0M193.2 387.8h0M558.5 316.4h0M430 254.8h0M523.8 321.3h0M277.8 244.6h0M231.3 274.6h0M579.5 298.7h0M308.5 308.3h0M597.4 293.5h0M569.8 280.8h0M279.6 292h0M592.1 316.2h0M643.6 283.8h0M328.4 293.8h0M195.5 304.8h0M284.1 239.1h0M384.8 263.6h0M207.6 338.5h0M358 310.8h0M391.5 308.9h0M221.8 324.2h0M305.8 306.6h0M326.6 171.2h0M421.1 329.5h0M374.4 289.3h0M573.9 313.1h0M434.4 329.4h0M403 276.8h0M579.5 317.3h0M218.1 245.2h0M199.3 333.9h0M403.1 368.6h0M255 282.7h0M369.8 267.5h0M324.9 252.3h0M487.6 241.3h0M484.6 318.1h0M559.5 305.2h0M398.6 292.3h0M550.6 312.2h0M598.5 306.4h0M377.1 261.1h0M485.9 271.8h0M303.1 338.4h0M297.1 267.7h0M340.6 286.1h0M306.7 297.6h0M569.4 281.5h0M593.6 304.5h0M587 291h0M614.5 308.7h0M361.4 290.6h0M450.9 331.6h0M368.4 291.1h0M370.6 261.9h0M371.8 294.6h0M506 253.2h0M287.6 303.7h0M593.6 304.2h0M328.5 211.9h0M182.7 354h0M644.9 326.1h0M291.4 263.3h0M476.4 268h0M575.7 283.3h0M344.2 323.8h0M324.9 243.3h0M173.6 314.1h0M351.2 255.2h0M350.7 320.7h0M391.3 308.2h0M376.2 289.8h0M338.2 306.5h0M354.3 294.6h0M412.7 327.3h0M561 259.8h0M429.5 255.1h0M192.6 200.3h0M616.4 278.1h0M453.2 316.6h0M315.6 354.4h0M440.7 309.8h0M350.2 278.1h0M265.2 334.6h0M234 349h0M272.8 215h0M348.3 233.9h0M489.5 267.8h0M502.9 325.1h0M244 361.8h0M347 300.5h0M340.5 285h0M401.4 284h0M689.5 311.4h0M312.8 254.8h0M379.4 274.3h0M505.2 358.4h0M449.4 235.7h0M327.8 308.3h0M355.9 228.3h0M270.4 267.2h0M350.9 275.7h0M304.2 297.8h0M421.4 262.6h0M403.5 302.4h0M347.3 300.8h0M415.3 356.4h0M410.9 279.4h0M448.3 258.4h0M456.8 313.5h0M392.3 266.6h0M341.2 285.9h0M482.9 321.3h0M350.9 296.8h0M387.9 293.5h0M368.8 303.1h0M207.3 307.3h0M289.2 330.7h0M478.8 312.3h0M490.5 311.5h0M578.2 274h0M661 280.5h0M177.5 280.9h0M255.8 236.2h0M383.6 270.2h0M329 269.4h0M288.5 309.5h0M442.1 392.3h0M273.7 293.1h0M191.4 368.1h0M364.4 313.6h0M387.7 300.4h0M556.7 273.9h0M175.7 212.9h0M360.3 249.4h0M477.5 264.3h0M363.8 281h0M489.9 311.5h0M508.6 331.8h0M363.8 264.3h0M368.8 323.1h0M408.3 268.1h0M359.3 276h0M341.4 315.1h0M691.7 313.9h0M330.8 316.3h0M444.6 316h0M411.9 251.9h0M213 279.6h0M440.8 309.1h0M542.2 316.7h0M224.8 370h0M357.8 283.3h0M204 303.4h0M373.4 298.9h0M271.1 292h0M594 251h0M330.7 202.9h0M464.6 259.9h0M209.2 364.6h0M383.9 229.7h0M399.8 323.5h0M405.1 298.4h0M303.4 320.7h0M308.7 282.8h0M288.8 278.4h0M593.6 279.1h0M340.6 226.8h0M342.3 252h0M356.7 258h0M372.4 307.1h0M410.1 310h0M521.8 334.1h0M456.8 322.8h0M661.2 297.4h0M284.2 335.6h0M389.7 324.8h0M488.9 350.9h0M291.6 285.9h0M538.8 310.7h0M675.1 265.9h0M420.3 314.5h0M253.9 254h0M626 277.7h0M480.7 220.3h0M664.6 317.5h0M446.9 305.7h0M581.4 285.5h0M430.9 316.6h0M200.8 328h0M351.4 272.9h0M358.5 295.9h0M292.6 317.2h0M303.7 278.8h0M432.1 262.4h0M518.2 310.9h0M168.3 284.4h0M620.1 290.1h0M439.1 245.7h0M247.6 268.7h0M472.8 320.6h0M232.9 253.4h0M203.3 325.4h0M513.6 310.5h0M479.5 320.6h0M556.2 274.3h0M327 269.8h0M373.7 307.2h0M378.6 314.8h0M347.5 278.4h0M375.2 304.5h0M459.7 253.8h0M565.3 307.4h0M264.2 215.7h0M254.2 236.7h0M413.7 317h0M450.1 315h0M237.1 372.3h0M162.6 304.6h0M529.5 308.8h0M252.1 312.8h0M631.6 292.8h0M167.1 270.1h0M517.8 339.7h0M443.6 319.4h0M365.5 221h0M421 270.5h0M263.9 360h0M198.8 226.8h0M409.7 308.8h0M265.5 248.9h0M454.1 335.4h0M265.8 265.7h0M358.2 277.6h0M365.2 298.9h0M394.6 252h0M365.6 319.7h0M406 310.3h0M548.4 266.5h0M299.4 247.2h0M283.9 173.1h0M403.8 354.4h0M250.6 288.8h0M452.6 327.1h0M393.3 328.8h0M277.4 294.5h0M308.5 339.4h0M402.2 282.4h0M202.4 234.4h0M387 277.6h0M358.6 303.8h0M233.7 273.6h0M323.9 272.5h0M419.9 269.7h0M462.1 314.7h0M236.3 235.1h0M366.2 221.5h0M586.1 302.2h0M370.3 245.7h0M387.5 284.9h0M346.3 223.5h0M296.6 375.6h0M596.4 303.3h0M644.9 292.4h0M504 258h0M402.9 285.4h0M236.3 313.4h0M317.1 255.5h0M567.3 320h0M237.5 341.8h0M355 311.1h0M503.9 395h0M353.4 375.6h0M378.4 266.3h0M383.3 298.1h0M319.5 258.9h0M353.1 306.1h0M438.6 330.5h0M227.4 262.9h0M282.4 364.8h0M455.1 313.8h0M553.5 275.5h0M587.9 297h0M544.3 306.7h0M325.4 310.2h0M376.6 258.6h0M306.7 333.1h0M553.4 306.8h0M309.4 288.6h0M381.9 251.3h0M212.9 189.8h0M375.4 288.9h0M384.3 313.8h0M300 397.2h0M421.1 369h0M376.4 289h0M420.6 269h0M601.3 284.1h0M325.5 260.2h0M591.5 275.1h0M180.5 227h0M484.3 258.6h0M615.5 285.3h0M385.5 258.6h0M401.2 258.5h0M387.8 279.3h0M257.1 274.4h0M270.8 322.1h0M225.2 358.4h0M401.5 262h0M273.9 272.6h0M225.3 316.8h0M266.5 345.5h0M439.6 312.1h0M261 295.3h0M357 287.6h0M247.7 305.5h0M462.3 314.4h0M520.8 310.1h0M381.4 261.4h0M309.9 296.1h0M230.8 242h0M316.9 294.8h0M315.6 298.8h0M495.1 325.5h0M507.8 317.4h0M341.5 296.1h0M697 312.3h0M443 258.6h0M484.1 369.3h0M377.5 309.8h0M587.2 325.7h0M421.8 351.7h0M420.1 310.6h0M207.1 249h0M413.7 264.6h0M388.2 298.1h0M297.7 306.8h0M367.4 305.1h0M268.2 304.5h0M241.7 269.3h0M383.6 257.1h0M277.9 399.8h0M589.2 309.8h0M405 293.5h0M378.8 393.4h0M324.9 267.3h0M571.4 304.2h0M378.4 289.5h0M373.5 398.9h0M553.4 317h0M500.4 229.8h0M442.7 316.9h0M435.5 333h0M247.7 328h0M391.3 295.9h0M441.5 261.3h0M524.1 318.5h0M253.7 356.1h0M395.7 309.5h0M214.7 365.4h0M405.4 332.4h0M379.4 311.4h0M307.5 289.9h0M221.9 302.4h0M390.5 291.5h0M556.2 276.4h0M437.3 310.7h0M261.5 324h0M311.6 293.1h0M339.3 280h0M370.1 248h0M329.3 306.5h0M380 309.4h0M675.8 328.9h0M386.9 305.4h0M482.8 315.2h0M458.3 331.9h0M495.7 322.6h0M332.2 253.2h0M606.8 316.6h0M211.3 274.7h0M416.3 272h0M403.9 262.6h0M370 232.3h0M389.3 262h0M403 308.3h0M527.8 311.6h0M297 298.9h0M213.1 321.2h0M281.8 271.3h0M390.8 293.3h0M421.3 265.7h0M350.9 331.6h0M385.1 196.8h0M288.3 224.6h0M237.9 368.3h0M499.8 380.5h0M441.4 304.8h0M325.9 251.8h0M354 354.7h0M444.7 332.9h0M382.8 309.5h0M374.1 300.8h0M490.4 315.9h0M380.2 409.2h0M362.7 306.1h0M266.6 296.5h0M405.5 302.8h0M396.8 293.3h0M257.8 316.1h0M298.1 290.3h0M567.4 312.8h0M257.1 262.6h0M350.4 285.5h0M403.7 253.2h0M358.7 271.8h0M567.3 278.7h0M250.4 315.1h0M473 265.9h0M217.8 195.7h0M622.9 266.5h0M361.1 287.4h0M641.5 269.2h0M336 348.2h0M586.4 295.7h0M479.8 252.2h0M363.5 245.8h0M545.7 256.4h0M359.7 303.4h0M475.9 263.7h0M334.6 321.7h0M581.1 288.2h0M509.4 317.1h0M264.7 223.4h0M225.3 228h0M206.1 269.2h0M457 268.1h0M606 299.5h0M339.8 313.4h0M552.1 316.4h0M673.9 293.1h0M262.1 281.2h0M500.2 349.5h0M375.3 271.7h0M476.7 269.5h0M424.9 268.2h0M327.6 246h0M422.8 275.6h0M453.6 270.1h0M227.3 215.5h0M364.1 350.7h0M270 318.2h0M449.4 254.1h0M390.9 306.2h0M427.5 268.6h0M406.4 289.9h0M386.3 296.9h0M513.6 320.2h0M498.4 269.8h0M420.1 278.3h0M291.4 311.7h0M543.1 270.9h0M642.6 297.9h0M359.8 364.9h0M646.9 331.6h0M243.3 293.2h0M536.5 312.9h0M604.7 296.7h0M248.1 228.8h0M180.1 218h0M283.4 309h0M512.6 326h0M559.9 312.5h0M498.5 265.5h0M237.1 289.1h0M449 319h0M388.6 282.2h0M379.5 354.4h0M402.8 271.9h0M291.1 327.4h0M387.1 314.8h0M460.8 317.3h0M331.7 179h0M409.6 311.1h0M405.3 278.5h0M443.7 258h0M454.2 317.9h0M535.9 309.4h0M491.1 319h0M399.1 259.6h0M272.4 294.8h0M376.1 289.2h0M414.5 242.3h0M318.4 287.2h0M380.2 276.7h0M340.4 276.9h0M278.9 233.4h0M454.1 330.7h0M276.6 319h0M390.8 285.5h0M296.4 289.5h0M279.3 321.9h0M219.9 329h0M637.1 285h0M561.8 311.8h0M395 304.6h0M344 231h0M438.3 256h0M320.2 298.8h0M351.6 319.3h0M203.7 192.6h0M383.9 302.2h0M586.2 295.5h0M412.3 259.6h0M359 268.3h0M277.3 298.6h0M270 270.7h0M287.8 267.6h0M336.5 319.6h0M472 320.5h0M350.7 300.4h0M422.2 252.3h0M345 273.3h0M409.3 359.5h0M351.8 278.4h0M585.9 306.4h0M197.2 289.1h0M298 284.7h0M392.7 209.1h0M356.8 312.8h0M177.3 179.4h0M565.2 273.7h0M565.8 304.3h0M539.8 323.4h0M355.1 270.2h0M330.6 324.8h0M442.7 311.9h0M379.4 289.6h0M541.2 263.3h0M587.5 289.8h0M481.5 270.6h0M353.3 207.9h0M554.7 309.9h0M483.7 269.7h0M371.9 294.3h0M397.8 291.1h0M259.4 306.1h0M498.9 321.1h0M448 341.6h0M246.7 354h0M328.3 294.3h0M255.4 257.9h0M436.9 262.2h0M469.6 318.2h0M587.7 291.4h0M490.5 333.7h0M370.6 338.3h0M579.7 300.8h0M406.6 282.9h0M208.3 306.7h0M347.4 281.6h0M248.7 266.1h0M445.7 320.7h0M302.7 246.2h0M300.2 266h0M586.9 288.5h0M484.8 264.1h0M590.7 292.4h0M244.1 295.7h0M374.8 278.9h0M400.5 315.6h0M369.4 276.9h0M306.6 303h0M421.7 210h0M460.3 325.8h0M361.7 261.9h0M293.7 304.1h0M334.8 238.7h0M450.9 319.9h0M432.7 303.7h0M446.8 256.2h0M202.4 242.3h0M384.2 321.4h0M435.2 374.5h0M426.6 304.7h0M435.8 269.2h0M476.7 328.9h0M427.7 320.1h0M420.9 247.6h0M244.2 207.6h0M303 255.9h0M266.7 224.7h0M360.6 290h0M231.1 178.1h0M389.3 315.8h0M390.5 314.3h0M260.8 241.1h0M194.4 331.2h0M506.4 317.4h0M236.4 280.1h0M269.2 208.9h0M295.2 259.6h0M584.1 320.9h0M594.6 288h0M476.7 233h0M415.3 331h0M450 230.6h0M436.3 262.1h0M412 277.4h0M311.6 284.4h0M512.5 310.1h0M175.8 269.2h0M489.3 270.2h0M251.2 361.4h0M245.1 309.9h0M247.9 258.8h0M546.1 262h0M365.2 262.7h0M333 209.9h0M325.1 355.7h0M457.8 247.5h0M196.6 306.9h0M447 272.9h0M263.6 293.3h0M537 309h0M264.6 273.2h0M582.2 287.6h0M600.5 303.8h0M442.8 311.4h0M371.7 285.8h0M640 278.9h0M466.7 323.6h0M214.4 357.9h0M272.4 217.2h0M265.9 260.2h0M346.2 300.9h0M434.5 326h0M350.2 246.7h0M410.2 275.7h0M265.1 253.6h0M304.3 340.7h0M331.9 361.4h0M325.3 253.3h0M368.7 233.3h0M396.2 281.2h0M226.3 225h0M228 353h0M334.1 323.2h0M514.9 311.8h0M239 173.6h0M407.3 257.1h0M582.7 300.1h0M284.2 332h0M724.2 302h0M292.1 263h0M355.4 303.8h0M388.4 288.5h0M391.1 276.7h0M299.4 197h0M374.5 263.6h0M308.9 240.6h0M364.6 274.5h0M361.2 271.2h0M296.1 311.9h0M265.5 336.3h0M571.4 276.9h0M193.4 365.5h0M276.2 204.8h0M194.4 232.2h0M526.4 258.6h0M442.9 272.1h0M302.7 350.8h0M299.5 300.5h0M346.8 256.3h0M366.5 381.6h0M375.2 218.4h0M624.1 324.2h0M341.2 223.9h0M334.9 302h0M340.7 304.7h0M319.5 298.8h0M537.4 339h0M534.8 330h0M366.5 273.4h0M198.3 318h0M405.1 252.1h0M399.8 277.1h0M542.8 320.9h0M372.8 265.2h0M336.8 350.2h0M229.8 281.2h0M389.7 271.4h0M382.1 240.2h0M402.1 255.3h0M542.3 263.4h0M385 265.4h0M433.4 318.6h0M242 262.4h0M386.2 334.6h0M619.2 288.2h0M344.8 226.1h0M318.9 294.6h0M181.8 240.7h0M308.1 332.1h0M285 281.5h0M444 257h0M348.3 259.7h0M302.8 238.3h0M512.7 324.7h0M626.8 300.5h0M719.3 320.2h0M591 258h0M458.9 263.1h0M215.7 305.8h0M282.3 280.9h0M552 334.2h0M378.4 285.2h0M427.4 321.8h0M318.3 304.4h0M274.8 264.8h0M505.6 315h0M330.2 255.7h0M217.8 392.5h0M316.3 273.8h0M266.9 258.5h0M465.8 382.1h0M381.6 274.2h0M408.4 279h0M377.9 271.5h0M307.8 382.9h0M428.7 251.3h0M235.7 373.6h0M590.5 314.4h0M305.9 235.6h0M450.3 308.4h0M583.9 301.7h0M625.5 322.5h0M634 318h0M560.8 265.5h0M431 346h0M301.5 294.9h0M330.7 287.8h0M236.9 224.4h0M333.9 293.2h0M558 309.1h0M423.6 315.5h0M573.8 281.4h0M267.5 248.8h0M537.1 317.8h0M397.6 299.1h0M480.7 246.4h0M364.2 252.8h0M513.2 264.8h0M426.3 260.9h0M576.4 305h0M490.8 272.2h0M324.1 275.3h0M571.2 271.2h0M331.1 280.5h0M261.2 332.6h0M576.7 328.8h0M317.3 309.7h0M360.1 189.5h0M396.5 251.7h0M236 277.9h0M417.9 315h0M395.8 275.6h0M348.9 365.2h0M662.1 304.4h0M236.8 320.9h0M494.2 255.7h0M469.5 311.9h0M662.9 273h0M444 253.2h0M283.9 200.9h0M438.7 263.3h0M222.3 311.3h0M238.2 261.1h0M338.6 255.4h0M573.5 285.1h0M474.9 271.8h0M366.8 281.5h0M316.2 267.8h0M467 320.1h0M274.1 215.3h0M471.8 311.9h0M615.9 281.9h0M296.9 297.5h0M486.1 257h0M263.2 237.7h0M442.4 359.5h0M433.3 331.4h0M521.1 327.1h0M233.9 323.3h0M612.8 323.2h0M370.3 287.1h0M432.4 313.9h0M367.5 262.1h0M440.9 305.1h0M430.9 376h0M353.6 286h0M250.2 281.8h0M281.4 331.8h0M576.2 276.7h0M267.7 202.3h0M315.3 233h0M362.8 250h0M328.2 244.3h0M551.9 268.3h0M329 295.7h0M339.6 293.4h0M639.8 288.4h0M283.9 230.9h0M331.5 186.5h0M448.3 265.3h0M243.2 347.7h0M428.1 272.5h0M246 173.5h0M547.7 312.1h0M321.6 320.6h0M173.3 224.9h0M428.4 271.9h0M235.1 363.9h0M519 265.8h0M341.1 269.1h0M354.2 292.9h0M404.4 310.6h0M384.7 291.5h0M372.7 281.9h0M354.3 305.1h0M197.8 404.7h0M236.1 196.3h0M337.1 324.2h0M263.8 190.3h0M354.3 253.6h0M413.4 280.5h0M631.5 292.3h0M161.8 257.3h0M564.7 308.8h0M359.8 255.9h0M391.6 285.1h0M340.8 288.3h0M266.6 265.4h0M304.9 294.6h0M389.4 333.3h0M323.6 358.2h0M241.3 268.1h0M579.9 301.3h0M429.1 325.8h0M342.7 278.2h0M374.3 293.6h0M320.4 223.3h0M291.8 299.8h0M384 210.1h0M434.6 246h0M586.2 309h0M600.3 319.9h0M381.2 247.3h0M495.7 317.3h0M469.4 320.9h0M346.3 405.6h0M337.7 248.4h0M458.4 324.3h0M252.9 287.1h0M401.7 235.5h0M488.8 245.1h0M200.5 414h0M329.9 295h0M259.6 285.6h0M382.8 300.5h0M387.6 246.3h0M223.9 369.8h0M619.6 322.9h0M539 309.1h0M363.9 242.6h0M605.6 325.6h0M363.1 278.4h0M339.1 248h0M285.6 289.2h0M237.1 291.2h0M409.2 278.5h0M412 317.5h0M229.8 296.1h0M661.2 312.5h0M269.3 306h0M473.2 272h0M254.8 382.6h0M354.2 297.5h0M339.1 237.6h0M219.9 246.6h0M476.9 245.7h0M343.9 269.8h0M281.2 317.6h0M438 223.3h0M678.3 279.1h0M376.1 297h0M349.3 271.8h0M605.9 274.4h0M434.8 256.4h0M554.7 305.9h0M393.6 292h0M423 305.1h0M517 332.5h0M242.6 288.6h0M364.1 259.8h0M361.4 309.2h0M351.5 271.5h0M395 282.7h0M467 309h0M426.4 313.1h0M257.5 325.6h0M352.7 283.9h0M412.4 282.8h0M390.8 262.7h0M344.6 322.2h0M418.5 317.7h0M183.5 281.2h0M388.7 257.5h0M443.1 244.5h0M212 327.4h0M215.8 288.9h0M562.4 329.3h0M186.3 333.8h0M263 288.1h0M278 288h0M458.1 328.7h0M307.1 199.5h0M380.5 262.5h0M711.5 293.6h0M280.8 295.1h0M388.5 315.6h0M330.1 285.5h0M439.4 271.2h0M396.3 272h0M218 246.3h0M560.1 326.9h0M192.4 241h0M381.7 256.6h0M349.7 288.7h0M345.7 308.7h0M548.9 306.4h0M392.8 314.8h0M586.8 296.6h0M329.4 289h0M405.4 305h0M571.8 283.2h0M559.3 274.8h0M543.6 323.7h0M315.5 259h0M440.5 334.1h0M376.2 292.1h0M166.7 304.9h0M358.3 267.2h0M365.2 302.3h0M240.2 243h0M241 324.5h0M221.3 261.3h0M441.3 315.1h0M698.9 281h0M404.3 190.1h0M308.3 284.9h0M593.3 293.4h0M519.1 320.1h0M422.9 272.3h0M445.6 325.7h0M602.9 315.6h0M510.9 264h0M399.2 355.3h0M252.2 277.2h0M361.7 285.7h0M362 281.7h0M411.1 303.3h0M587.4 299h0M322.1 324.3h0M391.6 254.8h0M387 206.2h0M571.9 308h0M542.8 326.3h0M243.3 282.9h0M434.4 322.3h0M212.4 302.7h0M625.3 290.9h0M355 256.8h0M481.8 272.2h0M560.6 306.7h0M641.6 326.9h0M336.3 262.8h0M595.9 317.5h0M417.4 247.8h0M571.2 316.7h0M296.7 274h0M267.5 331.3h0M207 351h0M432.4 271.3h0M384.3 279h0M356.5 262h0M296.4 294.2h0M199.7 293.3h0M405.5 253.6h0M416.6 262.9h0M275.7 379.3h0M226.4 362.8h0M294.2 327.5h0M446.6 270.4h0M304.2 320.5h0M394.5 287.4h0M192.1 246.1h0M587.1 254.8h0M204.2 386.8h0M344.1 319.4h0M202 262h0M383.2 308.5h0M417.8 317.1h0M227.5 296.3h0M312.2 245.7h0M513.3 318.9h0M169.5 240.7h0M389.1 251.5h0M345.8 269.9h0M467.5 268.2h0M631.7 330.1h0M486.5 270.7h0M584.5 281.5h0M372.9 249.5h0M552.3 259.6h0M405.3 299.6h0M241.4 303.4h0M360.2 294.6h0M240 294h0M384.3 279.8h0M310.5 316.7h0M676.4 285.6h0M446 316.6h0M462.4 308.9h0M589.3 289.5h0M341.3 243.6h0M456.1 346.6h0M586.7 303.4h0M405 302.4h0M260.5 310h0M569 268.2h0M244.7 175.5h0M243.7 315.1h0M318.3 308.8h0M332.1 334.1h0M365.5 293.6h0M425.6 204.5h0M552.2 274.8h0M201.7 378.9h0M476.1 269.8h0M450.2 334.2h0M405.8 277.3h0M601.9 283.3h0M579.1 300.3h0M333.6 271.9h0M165.9 283.2h0M188.5 187.9h0M235.8 223h0M327.6 309.6h0M390.1 265.1h0M503.2 328.4h0M392.4 307.3h0M214.5 273.5h0M397.2 321.9h0M632.2 327.4h0M366.4 306h0M376.6 347.3h0M307.8 295.7h0M177.6 276.6h0M413.6 317.8h0M351.3 289.8h0M411 274.5h0M443 268.1h0M397.8 293.8h0M469.9 323.9h0M554.3 332.2h0M394.4 258.6h0M282.6 305.1h0M396.7 299.9h0M244.5 217h0M596.3 298.1h0M330.6 266.2h0M527.3 337.7h0M356.2 267.3h0M394.4 300.5h0M229.7 281h0M311.4 325.7h0M374.6 226.6h0M384.6 274.8h0M172.5 343.9h0M529.5 320.7h0M278.9 312.4h0M410.5 335.3h0M625.8 295.6h0M465.3 313.8h0M550.7 313.7h0M466.1 347h0M423 237.6h0M441.9 321.4h0M340.8 381.4h0M372.7 326.2h0M292.5 233.8h0M607.5 300.3h0M391.9 265.7h0M314.2 220.8h0M290.7 292.1h0M453 315.3h0M551.2 306h0M661.2 297.6h0M201.4 349.2h0M400.2 289h0M404.7 270.2h0M351 283.2h0M448.4 336.8h0M225.5 212.5h0M490 261.2h0M213.3 332.1h0M594.4 304.2h0M389.3 325.6h0M244.9 300.5h0M346 287.7h0M523.3 250.9h0M331 270.1h0M280.2 385.3h0M320.8 255.8h0M263 216.4h0M426.8 259.9h0M368.4 300.3h0M408.8 260h0M367.1 196.1h0M349.1 313.1h0M289.7 290.2h0M360.7 375.6h0M409.9 301h0M445.3 306.1h0M510.9 266h0M224.5 279.6h0M281 234.2h0M382.4 320.6h0M345.4 320.2h0M183.5 229.3h0M236.6 289.3h0M492.7 315.9h0M294.3 229h0M547.1 319.7h0M466.4 264.8h0M524.3 261h0M558.5 329.9h0M287.2 361.5h0M291.3 208.4h0M214.9 314.1h0M361.8 312.3h0M327.3 264.8h0M364.5 285.7h0M386.6 295.6h0M299 322h0M399.3 272.1h0M505.8 267.3h0M416.9 322.5h0M386.1 285.9h0M421.1 267.8h0M314 284.4h0M418.5 263.5h0M321.6 297.8h0M349.2 303.4h0M319.6 325.4h0M416.3 271.3h0M245.5 309.4h0M503.3 271.9h0M544.6 315.5h0M161.4 177.3h0M417.9 278.6h0M269.8 249.1h0M429.4 275.9h0M381.2 263.6h0M562.6 337.9h0M259.9 300.9h0M602.6 317.8h0M325.7 284.3h0M196 302.1h0M448.9 323.3h0M396.9 294.4h0M460.7 244.5h0M376.9 268.2h0M597 313.2h0M373.4 281.2h0M481.5 249h0M349.1 279.7h0M337 311.3h0M655.3 313.9h0M440.9 247.1h0M343 297.9h0M198 279.9h0M375.2 291.8h0M270.6 306.2h0M567.8 311.2h0M348.4 285.9h0M516.7 311.1h0M600.2 294.1h0M399.5 318.9h0M173.1 327.1h0M259.4 358.4h0M530.8 250.4h0M337.2 273.8h0M443.5 261.9h0M452.9 247.9h0M380.4 268.5h0M427.7 245.8h0M321.9 286.7h0M442.8 270.8h0M246.7 235.1h0M499.1 309h0M449.8 312h0M448.6 349.7h0M436.4 272.2h0M526.6 308.2h0M318 199h0M401 272.3h0M388.6 229.6h0M192 334.3h0M360.6 295.4h0M218.9 333.2h0M433.8 250.4h0M388.3 286h0M446.7 257.4h0M191.2 241.9h0M386 319.2h0M420.2 307.6h0M200.4 258.4h0M514 308.4h0M449.7 321.6h0M367.7 249.7h0M343.6 279.5h0M352.4 232.7h0M461.2 258.3h0M430.5 324.6h0M245.3 265.2h0M226.7 180.2h0M491.5 272.2h0M343.8 316.1h0M619.4 298h0M348.6 274.9h0M298.3 263h0M486.5 259.8h0M513.6 309.7h0M503.3 330.4h0M189.9 285.3h0M462.8 264.2h0M371.9 275h0M648.7 292.9h0M370.6 344.7h0M403.9 295.4h0M493.3 322.3h0M336.4 237.5h0M416.2 326.2h0M443.6 312.1h0M312.6 261.1h0M298.8 252.1h0M258.6 287.3h0M318.4 344.4h0M193.2 209.6h0M590.1 302h0M465.4 308.6h0M564.5 264.7h0M221.6 298.5h0M416.8 307.4h0M366.1 335.5h0M417.8 305.2h0M444.5 312.1h0M294.2 275.4h0M336 347.4h0M202.2 196.7h0M413.7 269.3h0M432.1 316.5h0M180.1 401.4h0M592.5 268.8h0M368.4 296.9h0M358.5 299.4h0M603.9 297.6h0M573.1 329.1h0M397.6 282.2h0M368.4 295.2h0M377.9 282.4h0M310.4 315.9h0M315.9 326.1h0M594 300.7h0M474.4 328.6h0M366.1 229.1h0M356.4 299.3h0M646.1 282.2h0M457.8 222h0M367.5 271.9h0M240.7 382.2h0M415.7 304.5h0M291.5 326.4h0M395.3 305.3h0M470.3 308.8h0M419.8 328h0M309.8 226.4h0M457.9 259h0M449.9 315h0M322.7 248.4h0M432.7 263.5h0M363.2 281.6h0M607 291.9h0M411.8 308.1h0M379.1 269.5h0M339.2 260.3h0M431.9 227.4h0M485.5 247.5h0M508.5 316.1h0M378.6 303.3h0M393.9 303.5h0M420.9 277.1h0M394.7 289.5h0M695.6 307.7h0M307.1 275.8h0M515.2 312.5h0M278.5 226.1h0M316.8 307h0M362.7 303.2h0M194 336.4h0M269.2 284.2h0M539 312h0M340.6 295.4h0M282.8 270.1h0M338.6 317.2h0M344 244.1h0M193.1 351h0M347.2 290.8h0M479.8 243.7h0M224.2 253.8h0M372.7 306.4h0M392.1 297.5h0M607 315.9h0M554.6 254.1h0M364.8 279.5h0M172.3 398.6h0M420.8 242.9h0M405.5 301.3h0M260.7 271.5h0M274.6 397.6h0M232.8 300.7h0M380.6 268.5h0M248.3 302.2h0M420.8 240.5h0M520.8 258.2h0M372.1 345.5h0M420.3 276h0M382.2 277.6h0M405.8 281.7h0M381.5 334h0M484.6 260.1h0M366.1 266h0M453.2 309.3h0M252.9 259h0M376 292.6h0M467.8 252h0M444.6 318.4h0M331.1 355.5h0M253.1 312.3h0M283.3 284h0M608.6 290.4h0M260.7 251.8h0M533.3 310.6h0M496.9 251.6h0M429.9 275h0M251.3 339.6h0M212.5 273.5h0M347 272.7h0M500.5 261.7h0M485.1 190.8h0M412.6 352.9h0M385 266.4h0M589 314.9h0M326.6 194.3h0M575.3 311.5h0M333.9 271.4h0M387.9 269h0M319.3 339.5h0M362.6 229.7h0M328 279.9h0M398.8 269.4h0M416.3 311.3h0M264.5 314.3h0M292.9 260.1h0M281.2 286.2h0M385.2 272.5h0M405.7 295.7h0M415.3 275.2h0M293.3 248.9h0M354 287.5h0M289.1 289.4h0M588.5 284.6h0M184.4 269.7h0M505.3 259.2h0M397 297.6h0M480.6 328.9h0M600.1 321.8h0M200 359.8h0M334.2 293.7h0M324.9 246.8h0M380.3 272.6h0M443.6 263.8h0M343.8 285h0M349.1 290.6h0M201.3 247.6h0M163.2 324.5h0M622.1 300.3h0M247.6 278.4h0M173.9 201.5h0M485.7 309.4h0M508.8 271.7h0M493.1 311.1h0M455.8 261.7h0M438.6 313.9h0M225.8 296h0M273.7 288.1h0M413 307h0M419.8 245.1h0M369.8 276.9h0M612 310h0M581.9 322.7h0M401.5 260.9h0M453.3 254.2h0M346.4 260.7h0M556.2 313.9h0M402.7 287.1h0M524.2 308.3h0M336.2 326.6h0M497.3 317h0M224.8 355.3h0M466.3 249h0M274.3 340.8h0M341.3 253.9h0M306 324.6h0M405.9 287.3h0M281.8 278.4h0M564.4 315.4h0M613.8 294.2h0M365.1 295.2h0M307.8 293.2h0M362.6 257.3h0M398 279.5h0M344.6 289.9h0M374.1 265.1h0M288.1 203.7h0M221.1 299.9h0M315.9 252.3h0M586.7 329.5h0M286 268.1h0M620.3 307.6h0M180.9 212.5h0M365.3 257.7h0M277.7 332.2h0M366.8 257.5h0M446.1 342.7h0M377.7 306.5h0M407.3 315.8h0M345.7 281.4h0M452.7 325.9h0M561.6 337.3h0M374.9 346.2h0M461.2 309.8h0M547.3 270h0M361 290h0M202.4 190.2h0M389.1 270.6h0M361.9 308.7h0M528.4 324.9h0M347 316h0M428.3 309.9h0M417.6 239.4h0M371.9 289h0M631 261.3h0M262.9 245.6h0M376 296.7h0M401.4 227.7h0M362.3 316.5h0M368.7 209.5h0M281.9 305h0M188.4 300.9h0M434.5 324.3h0M272.1 304.2h0M442 263.5h0M375.5 331.8h0M322.2 338.9h0M273.7 284.8h0M360.6 255.4h0M531.6 255.2h0M349.1 301.5h0M263 196h0M400.4 271h0M176.6 352.3h0M541.9 311.2h0M415.4 259.8h0M417.5 265.8h0M343.8 287.1h0M609.2 301.2h0M505.4 322.5h0M363.3 266.9h0M462 334.7h0M268 309.9h0M358.4 341h0M355.4 291.7h0M419.5 344.7h0M438.6 259.9h0M432.5 215.1h0M338.6 273.1h0M429.1 313h0M225.6 340.5h0M528.3 271.2h0M267.4 229.2h0M311.8 314.8h0M306.5 379.6h0M540.9 262.3h0M349.9 291.8h0M389.2 276.3h0M583 267.4h0M471.1 320.8h0M562 321.9h0M306.7 320.6h0M410.2 279.4h0M385.3 265.2h0M483.2 269.8h0M434 313.6h0M596.5 314.3h0M324.5 309.2h0M206.2 223.9h0M336.2 280.3h0M246.2 303.3h0M384.5 278.8h0M431.5 215.5h0M422.8 302.9h0M336.5 275h0M388.3 282.4h0M398.8 241.4h0M594.2 302.5h0M407.6 338.7h0M437.6 310.9h0M407.4 305.8h0M334.2 264.1h0M336.8 229.1h0M633.6 317.3h0M254.3 313.9h0M427.5 275h0M326.8 303h0M464.2 266h0M410.1 273.1h0M394.4 260.6h0M313.2 297h0M344.5 337.6h0M643.7 269.7h0M228.1 312.5h0M423.4 328.3h0M408.5 254.5h0M451.6 317.7h0M326.2 288.4h0M293.7 321.5h0M377.6 292.6h0M508.4 308.9h0M226.5 240.8h0M242.3 263.5h0M400.7 265.5h0M408.2 303.7h0M249.2 264.1h0M317.6 312.4h0M232.2 223.9h0M511.8 264h0M558.4 272.6h0M181.4 247h0M301.1 310.4h0M267.8 316.3h0M350.6 283.2h0M604 306.2h0M369 302.3h0M529.5 313.6h0M380.2 255.5h0M627 314.4h0M524.4 310.9h0M188.4 201.9h0M596.4 302.3h0M370.5 289.7h0M358.7 343.1h0M412.4 307.3h0M322.5 172.5h0M398.7 272.8h0M421.6 269.7h0M306.7 318h0M443.1 228.3h0M603.2 327.8h0M381 299.9h0M436.9 341.4h0M397.3 290.3h0M557.3 271h0M351.6 285.5h0M352.7 319.7h0M588.6 298.7h0M277.6 262.1h0M395.9 281.2h0M385.6 275.4h0M340.6 265h0M224.5 254h0M586.2 260.2h0M370.3 300.6h0M541.7 263.1h0M370.4 313.1h0M433.9 361.7h0M384.6 281.3h0M348.9 331h0M237.4 256.8h0M369.9 290.9h0M345.6 307.8h0M483.3 312.6h0M267.9 271.9h0M347.5 325.5h0M411.6 314.3h0M202.4 299.7h0M305.3 241.9h0M319.6 269.1h0M289.1 203.7h0M312.3 265.7h0M434.6 305h0M445.2 326.3h0M374.9 218.2h0M321.9 302.5h0M621.9 316.8h0M625.9 282.1h0M390 264.1h0M507.1 348.9h0M468.5 235.7h0M373.4 305.2h0M491.4 316.7h0M394.9 286.6h0M465.3 310.1h0M304.6 268.9h0M289 284.6h0M402.9 283.8h0M578.7 316.8h0M204.2 367.5h0M386.3 282.8h0M165.5 327.4h0M537.9 327.2h0M561.8 305.9h0M350.7 316.1h0M600.3 303.6h0M481 314.8h0M354.5 298h0M220.1 289.5h0M492.1 324.8h0M486.8 259.2h0M323.8 271.2h0M490.2 311.6h0M417.6 242.8h0M373.2 285.3h0M311.7 315.1h0M394.3 313.8h0M383.6 327.2h0M362.1 265.6h0M218.7 356.6h0M403.2 281.8h0M590.4 306.7h0M531.1 267.9h0M346.2 205.4h0M366.3 264.1h0M370.6 290.4h0M294 295.2h0M465.8 317.7h0M353.5 309.3h0M410.1 257h0M267.9 314.5h0M375.4 324.8h0M458.6 180.7h0M221.1 360.1h0M364 302.2h0M194.1 412h0M203.6 308.6h0M215.1 285.3h0M549 332.5h0M405.1 307.2h0M300.8 316.8h0M606.4 306.3h0M385.2 305.5h0M401.8 314.4h0M428.8 264.8h0M743.9 312.4h0M410.5 373.3h0M425.8 309.2h0M352.6 285.9h0M335.7 306.1h0M358.2 232.8h0M223 303.5h0M373.9 258.6h0M354.5 289.6h0M266.1 251.6h0M245.1 356.2h0M390.7 289.3h0M385.4 336.3h0M411.4 265.2h0M310.5 237.5h0M384.3 257.7h0M250.2 356.9h0M567.5 306.6h0M550.8 264.1h0M327.1 241.6h0M570.4 317.2h0M388.9 269.4h0M396.7 288.6h0M478.6 316h0M347.5 300.1h0M359.3 305h0M327 238.1h0M320.3 289.7h0M434.4 262.8h0M234.8 282.4h0M368.4 333.4h0M207.5 293.4h0M290.9 276.2h0M435.5 238.2h0M368.1 320.7h0M383 286.2h0M359.7 343.7h0M296.7 233.4h0M319.2 285.2h0M610.9 327.8h0M219.3 275.8h0M400.7 293.9h0M267.9 220.9h0M584.2 302.7h0M397.3 230.3h0M416.3 230.8h0M468.1 311.6h0M454.3 309.5h0M627.2 311.7h0M205.5 284.7h0M343.8 304.4h0M579.4 298.6h0M538.5 270.2h0M437.9 263.2h0M313.9 283h0M372.1 290.8h0M417.2 320.1h0M410.1 305h0M287.7 279.9h0M417.8 303.7h0M443.7 313h0M556.1 327.3h0M366.1 311.5h0M351.3 301.5h0M367.9 258h0M561.2 312.5h0M344.4 290.6h0M408.3 304.8h0M389.5 309.5h0M362.5 298.2h0M294.2 379.1h0M326.1 309.5h0M559.2 311.8h0M361.3 258.4h0M365.9 291.1h0M367.8 295.5h0M327.4 259.7h0M381.1 305h0M602.1 306.1h0M471.1 312.3h0M519.1 309.7h0M438.1 270.6h0M428.3 267.3h0M477.4 309.8h0M250.9 263.9h0M403.2 333.9h0M250.7 247.7h0M454.5 316.7h0M544.6 320h0M323.4 353.6h0M226.5 253.6h0M299.4 310.3h0M396.4 246.5h0M348.1 331.7h0M519.5 311.7h0M393.1 286.8h0M530.4 311.6h0M525.7 271.3h0M363.4 290.4h0M364.3 306.8h0M345.6 316.8h0M273.6 201h0M271.3 264.2h0M444.9 267.3h0M432.7 263.2h0M369.9 294.7h0M279.8 346.9h0M572 306.8h0M173.8 318.8h0M297.7 332.3h0M351.4 278.6h0M382.7 234.8h0M305.2 293.8h0M466.8 244.6h0M258.5 321.4h0M575.2 314.8h0M418.8 399.4h0M530.6 267.4h0M269.2 307.1h0M274.5 291.1h0M499.5 311.9h0M415.6 280.4h0M282.2 261.4h0M587.4 302.5h0M334.7 244.5h0M545.4 253.5h0M233 314h0M340.7 271.8h0M589.3 283.4h0M430.3 274.5h0M605.2 308.6h0M463.2 326.1h0M397.1 263.1h0M410 282.6h0M371.9 254.7h0M310 260.6h0M240.1 302.1h0M457.7 263h0M371.8 282.5h0M206.4 379.6h0M393 262.9h0M507.7 318.9h0M236.6 316.7h0M524.8 259h0M337.3 334.4h0M365 234.9h0M273.5 256.2h0M523.3 309.9h0M387.3 284.2h0M441.2 313.1h0M623.5 323.5h0M346.8 242.2h0M315 323.3h0M396.1 239.9h0M311.1 279.2h0M240.2 405.5h0M372.5 230.5h0M330.4 331.7h0M639.7 277.8h0M293.3 328.9h0M612.2 291.1h0M381.7 280.3h0M192.7 304.5h0M398.3 309.9h0M600.8 295h0M426.1 262.6h0M476 269.8h0M281.5 197.5h0M384.3 263.5h0M302.3 260.6h0M361.6 268.1h0M371.4 300.4h0M400.1 271.3h0M294.2 311.4h0M348 303.4h0M228 224.4h0M482.9 249.8h0M245.8 295.6h0M552.9 256.6h0M579.1 286.1h0M315.3 400.2h0M249.5 368.7h0M276.1 286.4h0M478.9 255.4h0M235.9 299.5h0M405.9 292.7h0M400 312.3h0M607.2 282.8h0M234.9 294.4h0M387 256.7h0M592 299.8h0M413.4 312.1h0M415.4 231.8h0M523.7 324.9h0M626 294.8h0M401 304.7h0M479.7 315.7h0M337.3 304.9h0M478.7 256.6h0M672.3 284.4h0M388.1 318.3h0M311.2 316.4h0M702 329.5h0M304.3 275.2h0M420 260.1h0M291.2 297.1h0M421.3 332.3h0M419.2 331h0M324.8 325.6h0M226.1 301.1h0M355.3 262.9h0M403.7 297.7h0M404.3 272.5h0M459.2 320.5h0M290 314.8h0M233.2 260.9h0M571.8 330h0M378 243.7h0M397 315.5h0M428.2 242h0M393.2 291.3h0M374 255.7h0M405.8 269.9h0M404.9 344.2h0M287.4 304.8h0M323.4 342.7h0M386.5 267.8h0M308 197.5h0M532.1 263.4h0M371.4 246.9h0M587.2 325.7h0M226.2 222.1h0M299.6 286.2h0M331.8 261.6h0M392.2 268.7h0M294.6 209.7h0M413.7 259.5h0M376.8 335.2h0M311.8 193.7h0M239 275.7h0M379.4 272h0M258.2 246.9h0M541.4 311.4h0M431.1 316.3h0M631.3 271.6h0M610.2 304.7h0M392.4 252.8h0M216.8 272.6h0M193.8 249.8h0M485.1 321.9h0M567.4 251.8h0M373.4 329.4h0M340.7 262.5h0M384.8 290.7h0M538.6 323.7h0M294.5 370.5h0M551.2 266.3h0M297.7 215.6h0M219.5 330.8h0M238 210.5h0M334.9 272.4h0M345.2 302.9h0M371.2 272h0M414.7 279.9h0M234.4 264.8h0M602.9 322.8h0M388 267.9h0M340.8 280.4h0M331.1 270.5h0M376.4 264.4h0M377 253.1h0M442.1 331.2h0M299.8 270.6h0M316.6 280.1h0M314.7 286.9h0M351.9 291.5h0M594.2 303.1h0M346.6 350h0M413.1 300.7h0M277.6 300.8h0M184.8 326.1h0M393.8 291h0M201 240h0M569.9 333.9h0M349.8 306.1h0M541.2 317.6h0M536.5 320.1h0M605 285.2h0M312.4 347.4h0M438.5 309.4h0M640.6 334.2h0M185.9 219.5h0M415.7 258.5h0M341.3 316.8h0M283.4 323.5h0M495 312h0M300.6 404.9h0M216.3 353.5h0M328.7 253.3h0M396.7 259.7h0M294 303h0M283.8 266.6h0M379.7 316.7h0M333 289.4h0M377.8 297.3h0M406.1 304.5h0M359.3 261.5h0M476.7 311.1h0M258.7 196.6h0M514.9 328.2h0M208.9 324.6h0M406.8 227.6h0M285.9 186.8h0M439 320.3h0M305.5 332h0M649.2 277.2h0M493.6 316.4h0M225.9 295.6h0M193.1 276.9h0M369.2 284.2h0M392.9 333.6h0M410.7 232.8h0M347.9 279.1h0M289.3 184.5h0M471 255.8h0M454.8 269.2h0M418.5 319.3h0M174.1 283.6h0M539.4 332.6h0M347.7 278.1h0M346.2 322.1h0M475.7 320.5h0M379.8 294.5h0M285.9 257.3h0M507.8 257h0M450.5 257.5h0M297.3 313.4h0M511.7 264.7h0M356.7 292.5h0M324.8 260.4h0M261.6 274.7h0M431.1 316.5h0M297.9 298.8h0M348.1 315.1h0M397 282.3h0M415.1 267.8h0M274.1 354.3h0M378.7 270.9h0M284.3 229h0M364.7 291h0M559.2 315.4h0M259.3 323h0M477.5 325h0M589.5 285.6h0M484.3 236.4h0M565 275h0M371.7 282.8h0M424.4 265.6h0M432 249.9h0M313.9 300.9h0M265.9 276.8h0M314.3 315.1h0M357.6 255.1h0M480.1 235.2h0M457.4 246.5h0M571.9 271.6h0M408.8 302.4h0M241.7 335.3h0M382.5 266.5h0M232.8 336.1h0M319.1 350.7h0M377.9 256.8h0M263.6 272.8h0M473.4 265.2h0M300.4 298.2h0M572.3 284h0M283.4 331.6h0M521.4 266.9h0M277.2 270.2h0M558.7 310.3h0M439.8 266.8h0M385.1 282.7h0M619.9 307.9h0M502.2 261.1h0M413.4 202.6h0M251.4 249.2h0M222.5 214.5h0M327.1 258.6h0M545.3 326h0M398.1 265h0M560.8 276.7h0M376.7 237.8h0M314.3 319.1h0M278.1 214.4h0M359.7 279.1h0M380.7 372.9h0M183.7 402h0M418.9 327.7h0M382.1 283.8h0M501.5 310.4h0M342.6 250.9h0M560.5 266.1h0M385.8 248.8h0M424.8 312.4h0M484.2 250.1h0M328.4 261.7h0M203 407.3h0M508.7 311.3h0M305.3 376.1h0M604.5 333.4h0M503.3 328.2h0M334.8 302.5h0M304.9 340h0M369.7 286.1h0M406.7 278.4h0M379.5 279.6h0M211.8 353.9h0M385.5 260.1h0M337.2 280.4h0M588.8 327h0M650.8 317h0M354.4 278.4h0M327.4 323.1h0M407.6 266.6h0M476.4 317.4h0M442.4 273.4h0M476.7 252.6h0M439.5 383.7h0M246.1 305.3h0M407.9 314.3h0M263.4 294.8h0M405.2 300.9h0M273.9 195.4h0M480.5 271.4h0M449.9 263.5h0M414 242.7h0M437.2 319.7h0M381 282.1h0M547.1 307.6h0M324.7 234.3h0M239.2 308.9h0M391.7 288.6h0M411.9 245.1h0M296 215.6h0M299.9 216.2h0M397.5 278.3h0M550.8 309.6h0M614.1 293.5h0M231.3 294.5h0M324.7 301.1h0M353.3 273.7h0M410.8 279h0M419.8 326h0M223.5 390.6h0M270.4 291h0M323.7 298.8h0M192.6 306.5h0M410.2 263.3h0M364.3 230.4h0M367.2 315.2h0M324.4 307.3h0M346.5 288.8h0M270 252.2h0M592.3 283h0M621.7 267.4h0M275.8 280.1h0M350.5 307.4h0M319.3 398.7h0M542.7 308.5h0M425.5 271.3h0M505.6 309.1h0M442.2 318.3h0M464.4 314.8h0M354.9 379.7h0M390.3 302.8h0M370.2 298.4h0M538.4 268h0M551.5 275h0M440 307.5h0M472.3 324h0M404.8 283.6h0M363.2 303.1h0M316.9 291.7h0M465.2 307.8h0M313.4 266.4h0M464.6 320.3h0M307.6 311.2h0M311.7 314h0M543.7 268.8h0M426.7 265.6h0M588.6 294.4h0M440.2 238.4h0M209.1 257.8h0M483.1 269.8h0M492.6 343.2h0M383.1 289.6h0M360.4 267.9h0M479.7 266h0M398.8 250.3h0M392.6 297.5h0M559.1 306.3h0M532.6 258.9h0M394.5 302.8h0M331.9 258h0M310.9 297.8h0M410.6 259.5h0M264.6 300.4h0M206.2 379.6h0M352.2 300.7h0M347.5 261.7h0M453.8 309.2h0M224.8 264.1h0M407.1 305.1h0M652.8 318.8h0M309.3 342.5h0M510.6 344.3h0M290 324.6h0M645.2 289.1h0M417.3 270h0M311.9 232.3h0M258 191.5h0M396.2 313h0M182.1 350.3h0M373.5 297h0M384.2 284.5h0M436.9 262.1h0M506.7 347.6h0M428.1 247.7h0M359.4 286.7h0M315 331.3h0M633.5 305.5h0M347 274h0M251.3 273.5h0M409.9 271.7h0M268.2 239.4h0M479.2 333.6h0M638.4 295.5h0M247.2 304h0M513.1 256.9h0M419 307.5h0M431.6 268.6h0M258.6 236.9h0M357.2 315.4h0M589.3 331h0M334.3 278h0M511.4 313.6h0M464.2 345.3h0M436.8 235.4h0M530.2 264.9h0M214.9 254.9h0M397.5 256.9h0M243.2 361.8h0M416.7 273h0M376.2 279.4h0M370.7 312.7h0M302.8 208.3h0M221.9 205.6h0M403.4 272.9h0M629.8 288.3h0M402.4 266.9h0M291.6 342.3h0M633.4 309.4h0M217.5 260.8h0M234.7 342.8h0M344 284h0M403.5 394.7h0M433.2 315.9h0M306.3 305.3h0M460.8 223.4h0M370.4 305h0M475.6 268.5h0M301.5 303.4h0M585.7 319.9h0M616.7 296.9h0M275.9 220.8h0M344.9 197.6h0M439.4 310.3h0M428.6 261.9h0M390.5 284.6h0M241.5 334.4h0M260.6 270.6h0M249.1 333.1h0M374.4 290.5h0M655.5 258.6h0M221.2 361.7h0M459.8 311h0M298.1 198.9h0M569.6 265.2h0M414.6 336.7h0M495.5 264.9h0M249.7 203h0M275 317.2h0M302.4 291.4h0M383.2 262.4h0M340.7 264.9h0M587.6 323h0M247.3 300.5h0M275.1 297.6h0M338.4 275.2h0M246 206.5h0M361 258.1h0M341.4 266.7h0M402.9 299.5h0M308.8 303.7h0M251.4 342.9h0M275.2 320.7h0M557.6 317.8h0M528.5 312.7h0M323.2 314.8h0M290.2 282.3h0M504.9 311.7h0M325.8 310.1h0M401 290.4h0M386.6 349.3h0M373.8 257h0M492.3 308.6h0M438.7 312.9h0M196.6 317.8h0M178.4 191.3h0M373 301h0M162 342.2h0M565.4 305.5h0M454.7 252h0M360.4 289.1h0M380.2 256.5h0M423.3 275.3h0M244.3 235.3h0M460.6 270.8h0M365.4 298.6h0M302.7 281.6h0M270.1 319.1h0M239.9 247.2h0M448.1 312.1h0M233.3 340.1h0M401.8 277.4h0M580.4 285.3h0M325.6 391.8h0M422.6 302.9h0M260.5 273h0M425.2 257.7h0M349.4 312.9h0M290.5 327.9h0M374.2 300h0M318.4 296.4h0M430 317.8h0M275.6 200.4h0M385.5 276.9h0M293.2 272.1h0M415.8 308.4h0M382.9 278.6h0M354.1 310.1h0M421 339.1h0M520.5 317.7h0M224 198.4h0M171.6 300.2h0M254.7 264.1h0M357.1 262.2h0M366 316.4h0M327.7 205.3h0M375.6 302.3h0M373.5 323.4h0M411.7 299.3h0M416.3 318h0M488.6 242h0M412.3 270.2h0M319.6 285.2h0M240.1 326.2h0M220.6 416.1h0M393 250.4h0M224.4 294h0M399.1 262.6h0M489.7 260.6h0M621.4 281.8h0M382.2 254.8h0M191.4 207.8h0M318.3 345.8h0M579.1 306.3h0M361.3 306.9h0M288.2 220.5h0M260.6 238.8h0M470.7 316.5h0M418.7 302.7h0M504.3 338.3h0M350 284.9h0M563.6 265.5h0M223 234.9h0M338.1 192.1h0M271.3 296.6h0M487.5 325.7h0M448.9 321.4h0M274.5 280.3h0M375 262.5h0M381.4 242.7h0M451.1 250.3h0M187.9 326.7h0M336.4 317.4h0M574.8 324.4h0M296.7 273.7h0M173.6 208.6h0M247.5 282.5h0M397.1 283.7h0M505.4 311.1h0M295 284.2h0M551.8 316.8h0M473 312.7h0M442.3 310.7h0M162.3 254.8h0M552 319h0M330.6 324.4h0M433.9 257.1h0M354 270.7h0M248.9 337.7h0M264.8 187.9h0M570.5 303.7h0M371.5 255.6h0M246.2 225.6h0M254.3 292.6h0M411.6 264.1h0M457.6 232.7h0M309.2 355h0M493 251.6h0M233.7 216.6h0M317.8 254.5h0M214.4 226.7h0M261.2 312.5h0M394.7 349.1h0M585.4 306.6h0M305.4 314.3h0M421.6 275.9h0M399.2 291.5h0M345.6 297.9h0M325.1 241.1h0M389.3 302.4h0M220.3 234.5h0M521 383.7h0M398.9 279.7h0M432.4 319.6h0M480 327.1h0M304.3 370.8h0M601.7 299.8h0M486.6 319.9h0M316.9 235.1h0M364.3 255.8h0M215 287.8h0M577.9 271.2h0M317.7 302h0M231.3 334.3h0M571.6 313.9h0M191.3 284.4h0M249.1 290.1h0M391.6 271.4h0M359.4 269.5h0M644.2 288.7h0M377.1 251.3h0M288 329.9h0M473.2 209.5h0M334.4 334.3h0M362.7 339.1h0M305.1 338.9h0M518.4 312h0M581.6 280.9h0M322.5 286.5h0M391.1 300.9h0M224.7 277.4h0M480.8 245.1h0M293.9 309.4h0M419.1 215.4h0M371.5 268.3h0M315.9 310.1h0M421.2 305.3h0M332.6 360.8h0M337 324.1h0M451 258h0M335.4 279.1h0M625 325.1h0M280 330.3h0M369.4 297.6h0M474.6 311.6h0M389.3 303.7h0M449.6 270.9h0M543.1 314.3h0M391.8 294.5h0M518.2 266.8h0M332.8 271.2h0M347.2 316.8h0M391.7 295.7h0M383.8 328.3h0M372.9 306.6h0M273 406.4h0M418.4 355.2h0M401.4 259h0M337.1 239h0M348.2 273.3h0M493.8 310.6h0M330.4 297.3h0M187 252.1h0M639.3 265.6h0M364.5 255.4h0M391.9 261h0M552.1 269.6h0M354 314.7h0M405.6 252.2h0M371.3 269.4h0M431.1 269.4h0M258.6 332.5h0M437 256.9h0M425.5 270.8h0M460.8 325.3h0M404.9 335.2h0M400.9 314.4h0M187.1 388.7h0M318.2 304.2h0M289.4 328.6h0M278.8 321.8h0M393.7 256.8h0M383 249.7h0M427.4 268.1h0M352.8 313.5h0M275.7 249.3h0M507.4 314.6h0M358.6 353.7h0M191.7 328.8h0M385.2 306.5h0M325.1 296.7h0M409.1 272.9h0M262.1 242.4h0M279.2 235h0M377.5 367.1h0M390.2 282.2h0M343.6 239.9h0M409 247.3h0M421 257.9h0M534.9 325.4h0M251.1 253.5h0M489.1 260.5h0M263.6 274.8h0M557.1 273.3h0M380.1 263.4h0M383.8 244.8h0M583.6 319.4h0M633.6 333.6h0M453.8 313.2h0M311.5 259.4h0M328.7 284.3h0M333.1 277.1h0M581.1 298h0M348.3 263.1h0M257.4 272.5h0M504.5 264.1h0M280.5 287.2h0M211.9 321.7h0M587.2 299.1h0M479.5 264.7h0M330.5 310.6h0M507.9 325.3h0M191.5 395.6h0M333.7 275h0M225.2 263.9h0M269.1 267.9h0M337.9 292.2h0M265.1 272.6h0M357.2 291.6h0M299.6 297.1h0M363.4 332.9h0M368.7 263h0M602.5 322.3h0M278.7 204.2h0M384.5 315.2h0M404 335.8h0M476.3 311.6h0M322.1 295.2h0M388.7 323h0M354.3 317.7h0M298.2 220.1h0M386.3 293.8h0M411 268.5h0M667.4 277.8h0M405.6 301.3h0M392.9 248.8h0M341.5 310.4h0M478.6 316.5h0M209.8 300.3h0M197.5 262.3h0M231 195.4h0M169.9 310.9h0M428.5 274h0M542.9 308.7h0M397.6 305.8h0M349.4 265.8h0M442.6 343.2h0M386.3 299.1h0M215.6 363h0M320.3 182.5h0M377.5 311.3h0M178.4 252.2h0M230.8 388.8h0M387.9 257.1h0M339.2 259.3h0M384 319.8h0M266.6 250h0M289.1 319.4h0M407.4 302.2h0M267.6 229.1h0M386.2 283h0M341.3 271.4h0M480.2 313h0M346.2 255h0M224.5 230.3h0M436 339.3h0M394.5 285.4h0M218.2 306.2h0M468.3 316.6h0M325.8 273.8h0M280.8 372.8h0M387.4 296.5h0M309.3 313.4h0M411 319.7h0M253.3 294.5h0M337 341.4h0M395.3 246.9h0M487.4 309.5h0M525.8 311.4h0M269.1 172.6h0M529.2 317.5h0M282.9 279.3h0M379.9 282.1h0M466.4 254.4h0M357.9 242.5h0M662.7 289.5h0M354.9 290.5h0M339.1 237h0M608.7 331.3h0M356.9 266.9h0M283.3 271.7h0M342.6 274h0M330.4 331.8h0M432.4 307.4h0M388.2 270.8h0M407.6 332.8h0M281.4 187.1h0M331.2 301.2h0M276.3 315.7h0M310.9 203h0M339.1 262.7h0M433.4 264.2h0M384.1 276h0M387 306.9h0M427.7 230.3h0M423.9 313h0M406 306.1h0M279.1 296.1h0M384.6 371.8h0M313.1 307h0M382.8 298.7h0M199.4 223.4h0M401 281.1h0M343.3 250.6h0M376.5 301h0M210.1 331.5h0M487.4 264.7h0M367.6 262.8h0M557.1 316.1h0M427.2 312.3h0M376.8 278.5h0M524.5 262.3h0M660.2 296.1h0M447 351.5h0M652.2 303.7h0M253.7 305.5h0M252 277.5h0M505.3 261.3h0M378.7 272.6h0M241.5 230.3h0M363.6 272h0M456.8 307.8h0M526.9 308.7h0M357.6 277.6h0M474.7 271h0M289.5 347.7h0M325.2 274.6h0M382.7 299.3h0M539 312.8h0M342.1 304.5h0M398.9 311.3h0M235.8 414.7h0M564.9 308.7h0M160.5 313.4h0M276.5 345.7h0M502.1 317.6h0M572.4 312.8h0M511.8 270.5h0M454.2 311.7h0M394.3 270.6h0M386.3 294.9h0M530.9 267.8h0M472.6 257.9h0M403.3 251h0M354.8 226.7h0M433.3 306.3h0M194.2 373.8h0M401.8 322.7h0M500.9 310.8h0M298.1 326.3h0M227.8 376.6h0M511 311.4h0M310.7 287.5h0M440.3 317.9h0M371.4 236.3h0M393.1 337.2h0M405.5 289.5h0M403.1 286.6h0M563.1 318.4h0M326 231h0M521.5 320.2h0M555.5 318.2h0M405.4 280.3h0M480.1 255.4h0M608.6 283.7h0M598.9 301h0M324.2 241.4h0M370.8 259.8h0M614.8 306.5h0M649.1 292.2h0M351.7 279.1h0M349.9 277.7h0M661.5 287.1h0M289.1 280.1h0M490.5 317.2h0M511.2 335.1h0M361.1 275.1h0M452.2 316.9h0M275.9 266.3h0M296.9 332.9h0M360.6 249.6h0M325.7 299.5h0M420.6 363.8h0M635.9 291.7h0M470.6 259.8h0M417.2 347.4h0M380.5 286.7h0M454.7 316h0M276.7 347.6h0M390.6 240.7h0M517.7 270.5h0M214.7 273.2h0M297.5 307.8h0M250.3 301.9h0M687.4 315.8h0M235.8 311.1h0M321.6 322.2h0M327.6 284.4h0M172.9 396.7h0M446.3 309.5h0M614.6 288.7h0M671.2 256.8h0M235.3 296.9h0M406.7 299.5h0M246.8 284.4h0M199.3 284.7h0M285.2 289.3h0M468.5 272.3h0M307.5 283.4h0M445.4 270.6h0M392.3 317.5h0M285.4 395.6h0M423.5 312.4h0M655.9 274.6h0M315.5 297.6h0M201 348.7h0M507.7 254.2h0M720.9 305.6h0M270.2 349.4h0M526 318.3h0M283 339.4h0M607.9 306.7h0M424.3 262.6h0M474.6 314.3h0M494.4 311.7h0M304.4 210h0M390.1 278.6h0M458.8 341.3h0M522.7 271.6h0M486.1 320.9h0M721.8 285.1h0M490.5 269.8h0M513.6 346.3h0M220.3 259.2h0M257.9 315.5h0M294.4 299.6h0M389.1 303.2h0M345.6 250.8h0M195.5 390.8h0M218.1 251.1h0M596.5 334.7h0M320.7 285.8h0M446.6 233h0M344.4 257.9h0M553.4 330.6h0M607.5 313.6h0M286.3 265.6h0M614.6 305.9h0M481.7 308.9h0M425.2 310.8h0M364.6 267.2h0M284.4 262.1h0M417.8 261.2h0M608.8 274.7h0M500.6 243.5h0M178.4 334h0M367.7 278.6h0M204.3 365.4h0M264.2 275h0M375.8 291.1h0M537.6 264h0M397.1 289.6h0M490.1 263.3h0M392.4 262.9h0M224.4 365.7h0M618.3 307.9h0M189.2 248.3h0M365.8 294.8h0M594.4 336.9h0M587.4 314.9h0M491 308.5h0M316.9 299.2h0M358.1 301.9h0M426.1 319.2h0M393.5 282h0M410.5 237.3h0M332.2 207.2h0M339.1 289.9h0M540.2 272.1h0M593 290h0M375.5 292.2h0M379.8 289h0M309.6 340.1h0M395.4 268.2h0M293.2 282.8h0M354.3 275.5h0M458.4 254.5h0M503.7 267.7h0M179.7 209.5h0M381.6 281.9h0M424.9 307.5h0M583 285h0M201.9 361.5h0M319.7 283.8h0M472.7 325.6h0M289.1 400.2h0M369.8 294.5h0M582.1 282.3h0M306.6 266.1h0M375.8 295.2h0M481.8 256.1h0M393.6 240.6h0M442.7 309.5h0M440.9 313.6h0M259.3 312.1h0M267.8 269.2h0M350.3 347.7h0M591.6 273.3h0M462.9 270.3h0M216.4 246.7h0M565.1 279h0M399.7 265.7h0M615 289.4h0M464.9 244.3h0M348.1 308.3h0M370.8 266.1h0M364.9 296.9h0M370.6 260.5h0M360.6 295.1h0M356.5 286.8h0M351.5 228.3h0M263.1 297.3h0M304.7 279.5h0M525.4 254.9h0M293.5 309.8h0M584.3 289.6h0M459 336.8h0M441 205.8h0M458.4 265.6h0M327 227.8h0M185.1 406.7h0M343.3 250.6h0M376.5 261.1h0M494 328.6h0M420.9 310.5h0M424.2 319.8h0M432 212h0M383.2 291.9h0M372.3 296.5h0M344.1 266.9h0M390.1 272.8h0M294.1 288.8h0M397.1 276.3h0M395.4 291h0M399.7 298.5h0M288.7 258.8h0M327.1 312.6h0M382.7 280.9h0M258.5 282.6h0M335.8 288.2h0M473.3 313.6h0M612.9 302.9h0M659.6 280.8h0M309.6 296.7h0M532.8 316.3h0M507.4 234.3h0M243.9 292.6h0M370.8 261.5h0M440 257.4h0M428 271.1h0M345.5 262h0M571.4 283.8h0M379.8 306.9h0M373.8 322.2h0M299.3 326.6h0M436.2 268.7h0M401 290.4h0M655.4 264.6h0M191.9 342.3h0M337.7 304.2h0M194.7 324.1h0M485.7 313.9h0M378.7 262.6h0M505.8 322.2h0M466.6 327.7h0M363.2 250.3h0M370.8 349.1h0M573.2 303h0M535.2 251.7h0M336.9 178.9h0M393.5 283.6h0M209.8 189.1h0M470.7 271.5h0M432 379.3h0M319.7 293.2h0M336.1 264.4h0M433.1 329.3h0M413.8 300.5h0M377.6 296.4h0M392.4 258.5h0M465.4 315.5h0M427.1 274.7h0M364.3 300.9h0M446.4 273.2h0M281.8 325.9h0M479.4 250h0M302.2 302.3h0M389.5 264.4h0M415.2 240.8h0M330.1 304.1h0M552.7 311.4h0M318.3 360.7h0M342.4 287.4h0M589 293h0M419.3 332.3h0M353.3 297.7h0M437 254.3h0M431.5 310.4h0M323.4 341.9h0M223.2 281.5h0M292.5 283.9h0M182.7 221.2h0M457.7 264.3h0M163.7 390.4h0M551.2 320.3h0M402.3 306.5h0M606.2 327.2h0M220.7 306.8h0M382 273.8h0M293.6 247.1h0M578.8 308.6h0M511.9 248.3h0M343.2 242.7h0M316.6 269h0M369.2 283.2h0M434.8 243.2h0M359.4 256.4h0M359.6 286.3h0M402.2 292.1h0M397.8 287.4h0M457.2 249.2h0M458.7 340.3h0M360.2 280.3h0M399.2 281h0M206.2 332.5h0M182.7 288.7h0M308.7 289.3h0M496.3 256.7h0M683.1 299.8h0M289.1 251.4h0M368.2 313.5h0M605.5 304h0M249.9 286.7h0M635.4 327.9h0M345.3 259.2h0M380.2 270.5h0M196 326.7h0M414.4 254.5h0M481.4 324.4h0M193.8 249.9h0M217.1 277.2h0M435 303.6h0M170.8 303.9h0M332.2 273.7h0M451 260.2h0M384.1 322.3h0M577.5 284.6h0M412.9 299.5h0M372.3 260.4h0M362.4 309h0M423.4 251.1h0M372.1 237.6h0M653.4 280.1h0M645.7 322.4h0M589.6 297.1h0M395.8 246.2h0M508.7 322.3h0M591.4 262.6h0M336.3 252.5h0M376.9 283h0M270.4 326.2h0M265.2 366.9h0M524.7 255.7h0M478.2 309.5h0M383 332.1h0M689.3 256.6h0M315.2 324.7h0M431.7 307.8h0M319.9 277.2h0M398.6 304.4h0M503.9 271.1h0M576.4 312h0M421.7 230.2h0M352 288.1h0M393.1 232.7h0M399.9 348h0M317 284.3h0M359.6 248.6h0M401.4 282.5h0M304.6 316h0M408.9 279.7h0M310.7 273.6h0M442.2 307.1h0M222.4 331.4h0M536.6 268.2h0M382.9 300.2h0M380 307.7h0M376.3 289.9h0M391.6 352.4h0M347.5 289.2h0M406.3 199.9h0M328.8 329h0M508.1 247.2h0M586.8 320.1h0M563.2 279.1h0M436.3 252.4h0M675.8 298.4h0M367.2 306.4h0M584.9 321.6h0M367.5 288.1h0M695.6 274h0M536.4 313.1h0M384.3 303.9h0M529.9 310.5h0M270.9 279.3h0M441.3 315.5h0M194.4 322.8h0M274.9 211.5h0M429.3 259.4h0M497.1 311.2h0M405.3 274.6h0M344.5 329.9h0M650.8 296.1h0M309.1 250.3h0M452.5 306.8h0M298.2 254h0M484.3 309.3h0M432.4 303.1h0M174.1 222.7h0M384 262.7h0M193.7 237.3h0M340.7 287.9h0M307.3 356.6h0M316.4 277h0M334.3 276.6h0M307.4 293.9h0M677.3 307.7h0M621.2 308.3h0M394.7 273.2h0M262.9 278.9h0M470.8 248.5h0M213.9 404h0M431.2 308.3h0M406 242.2h0M431.5 310h0M553.1 313.7h0M284.5 297.4h0M289.6 286.8h0M393.2 302.1h0M459.7 264.8h0M344.1 248.5h0M250.2 279.2h0M299 321.4h0M422.3 268.5h0M380.5 254h0M460.2 256.4h0M396.2 271.5h0M265.9 371.4h0M298.6 229.4h0M465.8 322.6h0M588.7 263.9h0M464.9 238.4h0M368.2 286.3h0M268.8 235.7h0M478 271.5h0M544.4 317.7h0M379.8 307.2h0M338.4 289h0M586.9 295.5h0M297.4 294.6h0M380.3 306.3h0M225.5 275.5h0M484.1 354.7h0M473.5 245.3h0M341.2 274.2h0M194.7 331.8h0M398.8 300.7h0M259.6 186.7h0M550.2 271.2h0M235.1 268.8h0M343.7 285.3h0M430.8 235.9h0M510 311.1h0M465.9 334.7h0M212.5 292.1h0M256.2 290.7h0M383.3 296.1h0M356.6 311.9h0M414.2 260.6h0M339.8 295.6h0M557.2 309.5h0M398.5 304.6h0M230 293.5h0M359.1 264.2h0M545.7 310h0M340.9 272h0M388.9 294.2h0M396.8 279.4h0M452.7 323.9h0M191.1 269h0M326.6 295.3h0M332.9 327.1h0M452.6 214.2h0M557.4 307.5h0M367.2 308.8h0M372.1 278.5h0M265.7 245.5h0M386.9 239.5h0M405.6 296.5h0M395.2 324.5h0M513 320.6h0M559.1 312.3h0M484.2 270.5h0M327.7 255.6h0M343.8 284.9h0M418.2 264.3h0M326.2 331.3h0M205.2 187h0M404.7 259.5h0M400.7 259.9h0M202.2 235.5h0M328.3 244.7h0M536.3 308.3h0M455.1 237.2h0M469.1 260.7h0M437.2 273.5h0M269 320.9h0M211.8 194.1h0M700 279.6h0M492.1 320h0M404.4 287.1h0M457.5 254.4h0M392.3 253.1h0M564.8 323.1h0M364.9 313.8h0M324.5 270h0M317.1 284h0M357 261.7h0M321 299.4h0M390.8 300.3h0M343 358.8h0M406 285.2h0M351.5 242.5h0M393.7 263.1h0M461.9 250.4h0M425.5 319.2h0M252.5 297.3h0M249.4 183.6h0M371.5 253.3h0M360 289.6h0M492.6 315.5h0M554.2 313.3h0M342.7 264.1h0M382.6 288.1h0M291.8 199.2h0M585.1 281.5h0M662.7 276.9h0M388.2 299.3h0M204.8 284.8h0M369.8 261h0M203.1 367.1h0M188.7 254.3h0M549.8 327.8h0M330.9 283.9h0M429.8 317h0M194.3 196.2h0M303.6 239.9h0M280.7 282.2h0M377.8 307.4h0M425 354.8h0M332 282.7h0M450.5 311.7h0M377.1 272.5h0M497.2 261.8h0M401 284.2h0M314 215.4h0M412.9 259.6h0M517.9 338.8h0M401 288.6h0M551.9 307.2h0M380.6 303h0M528 310.5h0M201.8 278.5h0M573.8 313.3h0M304.4 320.4h0M471.8 317.7h0M384.2 281.6h0M359.6 276.2h0M436.3 271.1h0M579.9 317.5h0M364.6 302.5h0M328.8 336.6h0M394.7 228.8h0M470.1 310.5h0M381.8 322.4h0M606.6 332.2h0M391.1 280.1h0M561.9 317.3h0M562.9 266.8h0M280.9 377.5h0M517.3 321.3h0M217.5 252.9h0M571.1 270.6h0M399.2 280.5h0M219.2 258.4h0M443.4 348.7h0M405.9 293.4h0M513.5 325.6h0M208 364.2h0M464.8 308.3h0M369.4 312.8h0M519.1 318.3h0M354.1 252.2h0M286.5 279.2h0M579.6 307.2h0M276.9 224.3h0M393.9 261.2h0M354.8 320.2h0M375 253.9h0M308.8 282.2h0M373.8 280.1h0M347.4 319.1h0M468.8 308.9h0M395.8 351.5h0M517.2 309.9h0M299.4 352.2h0M272.6 334.9h0M432.4 316.3h0M237.9 260.9h0M281.8 379.1h0M443.7 253.4h0M382.5 290.8h0M212.4 279.1h0M354.6 261.1h0M284.5 335.6h0M280.5 333.9h0M384.8 316.3h0M292 284.8h0M532 326.5h0M502.8 236.7h0M346.1 233.9h0M591.2 307.7h0M734.1 286.4h0M458.8 266.9h0M494.9 318h0M592.3 296h0M334.2 272.4h0M305.9 257.9h0M206.9 210.9h0M435 309.4h0M389.8 357.3h0M261.4 323.4h0M267.3 272.8h0M488.2 309.6h0M384.7 259.5h0M457.3 311.3h0M450.4 269.8h0M467.6 318.6h0M290.1 350.7h0M298.5 326.5h0M171.3 345h0M606.4 303.5h0M376.1 251.2h0M226.6 192.4h0M542.7 307.2h0M396.1 300.1h0M354.7 328.7h0M312.2 238.3h0M495.7 309h0M396.6 316.5h0M430.6 352.9h0M321.6 303.2h0M389.7 280.9h0M318.6 373.8h0M348.2 257h0M203.6 393.5h0M434.5 257.4h0M367.2 240.9h0M262.8 316.9h0M236.2 306.4h0M228.6 340.4h0M214.4 305.6h0M332 291.9h0M434.1 258.5h0M451.6 171.7h0M338.2 319.4h0M224.9 313.6h0M420.2 275.7h0M424.8 259.8h0M417.7 265.9h0M402.9 259.5h0M353.6 301.2h0M403.7 265.6h0M327.4 356.2h0M517.5 400.6h0M357.1 284.4h0M333.7 254.1h0M510.6 314.2h0M217.1 276.1h0M390.4 264.5h0M478.6 265h0M427.5 324.5h0M602.5 276.1h0M588.5 299h0M427.3 199.9h0M296.7 310.2h0M252.5 219.3h0M430 344h0M272.2 226.1h0M206 271.7h0M337 280h0M371.8 252.9h0M225 184.2h0M244.5 192.2h0M374.8 299.7h0M432.5 266h0M394.1 318.7h0M360.4 275.2h0M593.6 292.6h0M183.2 282.5h0M263.7 215.5h0M218.4 362.5h0M418.8 268.2h0M455.5 250.7h0M325.6 282.3h0M232 269.3h0M450.7 315.1h0M434.5 263.1h0M583.5 289h0M442.3 306.3h0M408.2 217.3h0M452.8 319.7h0M327.4 403.6h0M443.5 314.6h0M298.1 273.4h0M229.1 265h0M573.4 320.7h0M230 324.8h0M604.9 315.9h0M439.5 317.1h0M360.8 250.9h0M407.4 271.9h0M430.6 307h0M312 283h0M500 352.6h0M432 247h0M323.6 359.5h0M431.3 242.2h0M606.2 298.2h0M401.7 229h0M582.8 281.1h0M210.6 367h0M601.2 301.9h0M368.4 270.2h0M301.3 241.6h0M199.4 298h0M358.2 308.8h0M282 280.5h0M355.9 185.1h0M256.3 376.6h0M323.3 279.2h0M324.7 330.3h0M446.3 244h0M331 328.7h0M445.2 246.3h0M582.5 287.1h0M438.8 218.8h0M281.8 317.3h0M396.1 288.1h0M353.9 311.4h0M602.7 271.7h0M614.5 309.2h0M375.9 244.3h0M327 181.9h0M228.7 296.2h0M613.6 337.5h0M375.1 229.9h0M425.9 317.3h0M316.6 271.4h0M175.2 295.4h0M305.1 232.3h0M284.5 340.8h0M344.4 290h0M187.8 311.7h0M447 314h0M346.2 321.2h0M300.5 174.1h0M279.2 279.9h0M268.1 252.7h0M346.4 306.9h0M547.9 261.7h0M352.8 303.4h0M388 265.8h0M391.2 319.5h0M516.8 325.4h0M242.5 207.5h0M169.5 351h0M414.8 270.3h0M391.6 270h0M392.3 209h0M384 322.7h0M594.1 277.3h0M336.7 349.6h0M246.8 188.3h0M203.1 326.9h0M564.2 276.5h0M572.9 328.8h0M183.9 256.6h0M310.4 264.9h0M392.3 283.6h0M279.3 269.4h0M444.5 314.7h0M219.4 307.1h0M365.6 318.8h0M578 310.9h0M527.5 268.5h0M414.9 302.4h0M364.7 219.7h0M385.4 307.8h0M222.9 327.6h0M468 266.9h0M336.2 281.2h0M366 263.2h0M245.4 231.8h0M591 287.8h0M268.2 305.8h0M278.8 289.5h0M660.2 282.7h0M379.5 317.4h0M387.9 285h0M213.3 237.8h0M290 304.7h0M633.6 293.9h0M217.1 278.8h0M560.8 305.8h0M597.7 262.3h0M387.2 285.6h0M515.2 319.8h0M393.5 298.2h0M372.4 311h0M340 305.1h0M437.8 316h0M521.7 308.4h0M323.9 277.4h0M389.8 323.1h0M235.2 298.5h0M366.5 311.2h0M456.2 344h0M342 304.9h0M368.1 276.5h0M345.6 257.3h0M210.8 211.8h0M355.5 266.5h0M358.2 284h0M288.9 265.1h0M415.6 258.7h0M398.6 295.8h0M295.2 259.3h0M390.5 297.1h0M385.1 306.7h0M226.3 251.4h0M288.1 231.3h0M341.6 255.4h0M343.5 298.3h0M303 329.2h0M408.6 336.8h0M447.9 251.3h0M590.6 299.3h0M306.3 355.5h0M344.1 323.8h0M259.7 215.6h0M329.2 329.2h0M400.1 300.3h0M420.1 323.5h0M270.2 269.9h0M427.2 320.3h0M366.3 275.5h0M487.9 248.5h0M562.8 273.8h0M275.3 259.3h0M395.3 313.8h0M604.3 312.2h0M547.1 308.6h0M523.5 312.6h0M612.5 294.5h0M369.1 296.1h0M416.8 327.4h0M558.9 312h0M401.7 317.8h0M308.9 249.7h0M411.9 269.4h0M360.8 285.5h0M307.2 323.6h0M209.4 218.5h0M397.2 289.4h0M333 234.8h0M461.1 314.4h0M535.2 269.3h0M195.1 293.3h0M416.9 271h0M456.2 307.4h0M323.5 253.6h0M419.4 398.4h0M418.9 300.9h0M374.4 293.8h0M333.6 360.2h0M557.1 306.7h0M183.3 234.3h0M523.7 317.7h0M459.7 314.9h0M426.5 310.1h0M559.9 268.3h0M298.6 349.5h0M332.4 318.7h0M241.6 342.1h0M714.8 269.6h0M496.9 338h0M217.2 238.9h0M411.2 264.7h0M241 362.8h0M595.2 298h0M315.6 370.3h0M432.6 205.9h0M304.1 223.5h0M454.6 245.1h0M625.2 252.1h0M339.2 307.1h0M431.7 311.5h0M374.3 410.3h0M351.5 197.1h0M244 343.3h0M443.4 307h0M300.5 315.1h0M253 256.1h0M232 251.3h0M417.6 315.6h0M252.2 223.6h0M346 295.6h0M405.4 274h0M501.7 269.6h0M432.5 255.2h0M336.5 300.3h0M327.2 292.8h0M303.7 282.6h0M393.4 283h0M318.1 202.2h0M382.1 244.9h0M282.8 230.6h0M251 285.8h0M509 263.8h0M382.8 296.8h0M420.1 302.7h0M289.7 238h0M264.9 343.5h0M506.2 318.2h0M219.2 222.8h0M360.6 314h0M410.5 267.8h0M344.7 326.2h0M365 285.6h0M353.6 281.3h0M319 300h0M585.5 306.4h0M364.4 311.4h0M441.7 256.8h0M534.2 309.6h0M435.1 269.2h0M428.9 255.5h0M360.4 313.2h0M437.3 305.8h0M276.3 315.3h0M238.2 284.5h0M490.9 259.6h0M329.2 302h0M344.3 245.8h0M283.7 310.9h0M442.8 309.5h0M367.2 294.8h0M497.2 264.6h0M299.5 177.2h0M270.4 292.5h0M388.4 322.5h0M468.2 262.4h0M372.7 336h0M416.4 256h0M418.3 316.9h0M351.8 306.2h0M639.7 293h0M314.7 221.9h0M418.5 313h0M411.4 357.1h0M371.1 296.2h0M391.6 317.8h0M218.2 326.6h0M428.1 310.9h0M628 270.9h0M311.9 366h0M408.7 305.1h0M391.2 311.8h0M637 328.6h0M447.3 313.9h0M405.2 278.2h0M533.9 260.4h0M289 263.7h0M429.6 309.8h0M386.5 284.9h0M612.2 303.7h0M431.9 304.2h0M300.4 345.8h0M209.2 369.5h0M251.6 300.3h0M243.7 313h0M580.1 307.7h0M438.9 266.4h0M407.8 301.8h0M208.6 292.4h0M568.3 266.1h0M360.9 301.3h0M383 306.2h0M633 327.5h0M402.6 238.1h0M283.4 218.8h0M503.1 312.6h0M271 179.7h0M291.8 250.4h0M384.9 284.7h0M292.9 281.9h0M416.2 301.2h0M323.4 298.7h0M373.6 303.1h0M459.2 267.7h0M352.1 265.7h0M302.6 305.8h0M380.8 227h0M393.2 286h0M182.5 338h0M360.9 298.1h0M225.2 279.4h0M403.9 283.9h0M340.9 287.9h0M410.8 260.8h0M199.3 399.6h0M575.1 276.4h0M609.8 338.6h0M321.4 281.8h0M289.7 282.4h0M372.9 272.9h0M510.3 321.8h0M369.4 310.5h0M456 248.5h0M295.8 306.9h0M351.4 255h0M269.3 257.2h0M558.5 316.7h0M394.6 292.1h0M286.1 281.6h0M306.3 221.8h0M541 311.6h0M415.5 301.6h0M522.5 311h0M464.6 321.9h0M420.8 255.7h0M412.1 310.1h0M318 326.3h0M276.6 319.8h0M427.1 312.5h0M407.1 260h0M356.1 260.5h0M287.9 297.5h0M346.1 301.9h0M394.7 261h0M246.2 282.8h0M307.1 280.3h0M403 328h0M393.1 272.5h0M617.4 301.7h0M240.7 291.7h0M615.8 279.5h0M252.4 339.9h0M353.7 244.4h0M394 300.2h0M609.9 328.1h0M399.5 290.3h0M377.6 344.5h0M529.6 257.7h0M348.4 279.4h0M215.3 219.6h0M207.6 274.4h0M469.3 255h0M226 316.4h0M406.2 275h0M530 317.1h0M373.1 297.5h0M482.6 240.9h0M559 308.2h0M470 314.3h0M561.1 274.3h0M555.5 310.6h0M529 266.2h0M401 246.1h0M343.6 288.3h0M203.7 405.7h0M375.4 301h0M559.9 304.1h0M377.8 268.4h0M303 310.3h0M417.8 259.8h0M530.7 252.6h0M531.3 316h0M589.9 299.3h0M623.8 304.6h0M302.3 228.8h0M245 222.8h0M310.1 374.3h0M435 253.3h0M592.8 315.8h0M361.8 321h0M396.2 286.1h0M333 312h0M470.7 309.7h0M374.8 291.9h0M367 296.5h0M370.9 260.4h0M291 343h0M612.5 304.2h0M348.9 277.7h0M460.1 187.1h0M194.5 280.9h0M261.1 191.8h0M673.9 280.4h0M594.8 316.1h0M349.1 281.5h0M173.3 245.2h0M387.2 277.8h0M531.9 311.3h0M346.2 274h0M237.3 241.9h0M305.2 286.1h0M436.7 271.5h0M286.4 291.7h0M289.9 325.9h0M555.6 267h0M368.7 267.3h0M578.6 312.9h0M494.2 270.2h0M192.7 275.9h0M366 312.4h0M404.1 282.8h0M578.8 316.8h0M469.9 267.8h0M420.9 310.6h0M187.5 205.1h0M501.4 322h0M644.8 282.9h0M316.3 322.4h0M436.3 253.4h0M433.7 262h0M391.6 270.4h0M351 316.4h0M447.7 268.8h0M492.8 336.6h0M366.6 318.6h0M371.8 279h0M638.5 291.2h0M187 304.7h0M430.9 267.2h0M358.8 246h0M573.1 278.9h0M193.2 288.8h0M398.8 313.5h0M413.3 263.6h0M332.1 341.2h0M388.7 296.1h0M375.5 312.8h0M441.7 306.3h0M429.3 330.5h0M523.5 265.2h0M424.4 276.5h0M531.8 325.1h0M429.3 257h0M591.1 304.3h0M343.3 254.6h0M403.3 262.6h0M423.6 275.4h0M441.2 311.8h0M406.1 269.7h0M551.6 264.6h0M535.3 329h0M368.5 258.6h0M491.3 311.5h0M332.8 235.8h0M459.8 256.5h0M401.3 304.2h0M292.8 314.6h0M393.9 267.9h0M318.6 185.2h0M367.8 287.3h0M312.5 230.8h0M325.8 290.1h0M269.5 293.5h0M254.5 289.3h0M328.3 276.5h0M367.5 291.1h0M251.7 368h0M483.4 323.3h0M241.9 289.1h0M369.5 286.5h0M186.4 387.2h0M487.9 239.3h0M485.1 251.2h0M353.1 259.1h0M374.9 343.4h0M339.6 343.1h0M366.6 366.9h0M260.1 212.8h0M398.7 307.6h0M385.2 303.3h0M275 355.8h0M434.5 273.7h0M350.4 296h0M512.4 259.7h0M252.6 319.1h0M386.1 312.3h0M385.3 262.5h0M488.1 345.7h0M568.3 304.9h0M364.3 287.6h0M243.1 251.4h0M434.1 262.5h0M362.8 273.4h0M359.3 318.8h0M264 307h0M319.8 254.6h0M338.2 299.7h0M686.1 315.9h0M433.6 257.4h0M390.1 290.7h0M276 319.4h0M290.3 292h0M494.8 265.5h0M535.4 307.8h0M335.6 202.5h0M256.9 353.3h0M441.6 269.3h0M225.5 303.2h0M327.3 311h0M339.5 334.4h0M439.5 321.2h0M340.5 223.3h0M558.5 312.7h0M364 267.3h0M254.8 197.2h0M378.6 255.6h0M444.4 242h0M257.7 219.6h0M300 264.7h0M312.7 236.8h0M380.1 263h0M364 279h0M585.8 278.3h0M581 326.2h0M241.6 303h0M378.2 250.4h0M379.5 291.5h0M383.1 270.4h0M427.2 326.2h0M575.4 278.5h0M494.4 247.4h0M420.5 304.4h0M406.8 312.7h0M604.9 286h0M354.8 286h0M259.5 304.4h0M604.3 301.8h0M394.8 278.9h0M316.3 303.1h0M563.7 276.5h0M421.2 321.2h0M443.1 223h0M393.7 324.4h0M394 315.3h0M403.5 302h0M393 258.6h0M384.8 317.2h0M433.7 329.4h0M400.4 301.7h0M327.7 270.7h0M325.1 188.1h0M366.1 255.4h0M274.7 263h0M292.4 276.6h0M484.7 271.9h0M443 264.5h0M279.9 185.9h0M293.4 247.7h0M267.6 180.9h0M455.1 242.5h0M259.9 414.4h0M261.9 256.2h0M593.6 293.6h0M522.5 265.7h0M382.9 295.5h0M239.4 291.3h0M262.1 219.5h0M353.1 281.4h0M182.9 239.7h0M274 270.2h0M425.1 307.2h0M446 336.2h0M428.2 275.7h0M392.8 254.4h0M447.4 310.7h0M608.4 327.7h0M411.4 315.3h0M284.5 196h0M514.6 260.9h0M452.1 308.4h0M473.7 323.7h0M368.6 302.5h0M245.8 347.3h0M348.4 306.7h0M408.7 318.4h0M372.2 378.1h0M528.1 309.2h0M318.7 300.4h0M408.7 275.7h0M435.2 267.6h0M233.4 346.9h0M335.9 250h0M472.4 308h0M300.5 288h0M456.6 256.8h0M420.5 276.9h0M582.1 320.9h0M216.7 293.9h0M410.1 300.3h0M459.2 246.4h0M276.5 198.8h0M438.5 202.2h0M212.8 350.4h0M449.5 308.9h0M325.5 309h0M417.5 343.9h0M601.7 295.1h0M199.6 364.4h0M389.1 298.7h0M643.5 336.9h0M411.5 307.8h0M349.7 321.4h0M311.7 287.1h0M258.8 344.8h0M432.2 253.2h0M218.5 265.5h0M508.9 325.3h0M639.3 278.6h0M587.8 304.1h0M456.7 251h0M304.1 319.5h0M478.8 270.3h0M338.3 275.9h0M442 175.8h0M579.3 307h0M305.5 367.5h0M519.1 245h0M576 306h0M633.2 299.3h0M397.4 241.8h0M278.2 270.1h0M360.6 344.4h0M220.9 258.6h0M273.4 270h0M422.3 314.4h0M564.4 328h0M459.7 265.5h0M355.9 241.5h0M375.1 288.8h0M287.8 346.5h0M537.2 269.8h0M410.1 272.3h0M263.1 221.4h0M523.9 309.7h0M400 253.3h0M435.9 307h0M294.1 305.9h0M410.2 217.5h0M398.4 296.1h0M217.2 236.9h0M350.3 327.5h0M418.9 309.6h0M395.3 318.8h0M213.3 369.8h0M364.5 315.7h0M397.8 277.8h0M237.8 346.7h0M430.1 266.4h0M324.5 259h0M489.8 271.2h0M384.2 292.5h0M613.1 292.6h0M300.2 229.7h0M179.7 268.3h0M439.9 243.1h0M479.2 311.5h0M372.1 214.9h0M354.2 253.6h0M550.2 266.1h0M357.9 279.3h0M580.9 324.8h0M269.7 374.7h0M271.9 206.6h0M549.2 314.4h0M256.3 294.3h0M251.6 298.6h0M321.5 293.4h0M321.6 270.8h0M487.3 316.4h0M317.4 227.8h0M410.5 298.5h0M334.2 304.3h0M408.8 256.5h0M507.8 313.5h0M373 309.1h0M314.5 235.8h0M265.5 277.4h0M404.4 263.9h0M367.1 296.8h0M349.5 195.4h0M365.1 212.5h0M388.5 292.2h0M379.1 336.3h0M355.3 319.1h0M396.8 300.4h0M331.5 274.2h0M283.2 331.1h0M296.2 383.8h0M345.7 235.2h0M399 295.6h0M259.6 363.4h0M321 187.5h0M364.7 305h0M165.6 318.3h0M210.6 296.1h0M341.3 263.7h0M649.6 321.6h0M372.8 265.1h0M231.9 299.4h0M546.7 266.1h0M301.7 241.5h0M376.6 297.6h0M320.8 294.6h0M293 319.6h0M465.8 256.9h0M584.6 297.9h0M406.3 270.5h0M387.4 310.9h0M246.3 292h0M279 292h0M254 178.9h0M439.6 265.2h0M315.6 262.3h0M240.4 368.7h0M569.1 310.3h0M266.1 304.7h0M437.5 337.2h0M385.3 243.4h0M435.8 311.3h0M451.3 324.2h0M464.2 268.3h0M639.6 324.9h0M330.8 289.3h0M416.8 300.6h0M421.1 268.8h0M529 267.7h0M427.7 309.3h0M708.7 300.2h0M392.9 299.3h0M395.6 293.9h0M427.2 255.1h0M371.7 300.8h0M375.5 317.8h0M384.1 297.7h0M404.6 269.1h0M440.7 308.7h0M310.7 312.7h0M530.3 325.2h0M578.1 317.8h0M354.3 283.3h0M226 382h0M344 297.6h0M369.9 279.8h0M326.2 314.5h0M410.8 338.3h0M529 313.3h0M673.5 295.9h0M576.4 305.8h0M231.5 310.5h0M224.8 233.6h0M380.2 255.7h0M278.8 304.7h0M306.9 312.4h0M256.7 293.9h0M392.8 362h0M418.4 270.3h0M266.3 250h0M384.5 303.6h0M255.6 319.5h0M531.9 307.8h0M333.5 264.4h0M394.4 278.8h0M445.7 308.1h0M479.9 311.4h0M433.1 326.3h0M452.7 346.5h0M247.9 234.7h0M286.6 258.8h0M217.4 267.1h0M451.4 341.7h0M420.9 336h0M361.5 299.9h0M392.4 291.3h0M399.2 303.1h0M544.5 270.4h0M275.6 305.4h0M367.7 232.9h0M464.8 256.2h0M411.6 266.4h0M381.1 240.9h0M485.7 348.9h0M319.3 208.7h0M461.7 269.3h0M248.2 307.9h0M380.8 279.4h0M354.4 237.9h0M488.5 339.4h0M345.7 415.2h0M175.3 379.8h0M232.2 283.3h0M384.1 261.9h0M384.1 250.6h0M299.4 289.8h0M288.3 312.6h0M462.6 260h0M405 269.5h0M413.1 267.9h0M687 302.2h0M554.7 305.8h0M301.7 230.5h0M350.7 290.8h0M380.5 316h0M425.4 271.7h0M296.8 308.6h0M351.6 288.6h0M280 263h0M522.4 229.3h0M647.5 338.8h0M408.3 265.1h0M551.7 328.6h0M460.9 310.4h0M403.4 324.7h0M473.8 308.1h0M287.9 230.5h0M400.1 230.6h0M313.4 340.1h0M384.7 260.4h0M320.5 267.6h0M360.6 257.4h0M408.9 248.5h0M408.2 305h0M582 306h0M356 299.3h0M399.1 311.6h0M391.2 265.3h0M204.6 261.3h0M517.1 322.4h0M274.8 361.4h0M321.4 372.5h0M373.4 281.5h0M439.4 232.4h0M413.7 302.8h0M576 304.2h0M478 245.2h0M467.8 321.4h0M487.9 351.1h0M502.7 248.6h0M302.4 280.9h0M176.8 254h0M479.1 264.1h0M397.6 286.9h0M466.4 174.1h0M273.8 286h0M386.7 247.3h0M386.9 299.5h0M371.7 270h0M642.1 277.2h0M531.5 312.5h0M419.5 305.6h0M316.2 290.1h0M391.4 264.1h0M373.6 285.4h0M419.3 307.2h0M364.9 264.1h0M456.1 264.3h0M319.9 279.7h0M472.5 255.5h0M306 318.4h0M208.3 280.8h0M407.1 297.4h0M365.1 317.6h0M392.5 299.2h0M579.4 286.7h0M190.7 337.6h0M379.8 296.9h0M564.7 261.9h0M298.9 230.5h0M342.7 323.2h0M375.8 256h0M327.2 303.5h0M514.9 323.5h0M271.6 255.1h0M425.5 303.1h0M314.4 334.8h0M343.3 307.4h0M205.4 346.2h0M399.4 290.5h0M190.3 393.2h0M254.5 237.8h0M398.4 293.1h0M209.2 221h0M261.1 270.2h0M403.1 338.8h0M410.5 313.5h0M508.8 255.8h0M313.2 283.7h0M277.9 272.7h0M368.4 260.2h0M373 312.6h0M468.4 256.2h0M308.4 347.3h0M628 312.3h0M516.8 249.1h0M402.5 277.9h0M381.7 290.6h0M545.9 322.5h0M303.5 299.7h0M624.4 279.7h0M375.3 269.9h0M385.6 216.5h0M414.6 254.3h0M349.2 309.4h0M388.4 272.8h0M366.7 265.8h0M414.6 304h0M519.9 260.7h0M499.4 271.5h0M530.7 323.8h0M235.6 182h0M208.7 290.1h0M390.1 271.4h0M308.9 309.3h0M539.9 331.8h0M498.3 309.7h0M204.3 183.6h0M358.4 321.5h0M192.3 385.7h0M223.6 237.9h0M316.1 313.7h0M277.3 304.9h0M407.9 244.8h0M401.8 284.3h0M441.4 315.7h0M280 346h0M518 309.9h0M377 297.7h0M381.7 247.3h0M267.6 385.8h0M299.6 211.8h0M383.6 293.8h0M359.3 272.1h0M347.9 308.5h0M390.4 259.9h0M311.2 268.4h0M396.7 256.2h0M277.8 313h0M388.6 292.6h0M384.1 299.2h0M267 280.6h0M341.1 307h0M394.6 297.3h0M490 309.8h0M303.6 361.3h0M529.4 325.4h0M364.6 345.8h0M343.3 287.8h0M408 345.7h0M297.1 245.5h0M460.7 326.3h0M597.3 293h0M404.9 291.3h0M430.4 270.9h0M284.4 287.9h0M245.7 203.1h0M388.6 309.8h0M341.7 267.7h0M551.7 256.1h0M341.6 232.8h0M209.4 228.8h0M315.2 315.2h0M246.7 353.8h0M386.4 293h0M598.9 307.2h0M214.4 295.9h0M611.9 312.4h0M249.4 285.2h0M331.6 321.6h0M405 237.7h0M411.2 277.5h0M689 333h0M559.3 273.5h0M212.8 256.3h0M300.2 308.1h0M363 321.9h0M372.4 301.9h0M612.1 295.1h0M428.6 338.9h0M207.4 296.8h0M199 226.5h0M514.9 332h0M424.1 342.7h0M570.9 283h0M409.4 310.5h0M570.9 281.1h0M487.6 270h0M389.4 265.7h0M320.6 308.9h0M446.6 312.1h0M232.7 346.2h0M351.7 248.3h0M454.4 246.5h0M455.5 263.2h0M253.8 236.5h0M215 346.8h0M317.1 303.4h0M484.6 317.7h0M315.9 300.8h0M291.2 312.5h0M399.6 277.1h0M475.7 308.1h0M246.6 267.3h0M432.5 241h0M455.1 320.7h0M381.2 278.9h0M634.8 254.1h0M407.9 318.6h0M426.2 258.7h0M460.4 320.4h0M372.5 291.4h0M499.4 309.8h0M407.4 303.4h0M399.1 288.7h0M443.3 324.1h0M378.6 313.8h0M570 326.7h0M362.9 280.6h0M268.3 259.5h0M623.1 277.2h0M445.7 313.6h0M373.8 302.2h0M326.6 177.4h0M351.8 260.7h0M553.2 306.8h0M276.4 285.5h0M562.6 279.2h0M368.8 253.9h0M317.5 287.4h0M420.9 345.6h0M432.6 258.2h0M323.3 274.6h0M425.2 263.5h0M470 315.6h0M408.5 241.9h0M366.9 283.8h0M163.5 308.9h0M435.8 317.6h0M442.8 306.5h0M307.7 296.7h0M299.7 303.8h0M492.3 271.2h0M480 257h0M250.2 204.5h0M287.5 283.9h0M193.6 209.1h0M523 214.9h0M306.7 256.2h0M581.1 288.3h0M212.2 366.1h0M374.7 309.7h0M473.8 268.6h0M568.3 320.4h0M471.5 381.8h0M464.8 271.2h0M424.2 326.7h0M439.9 315.5h0M551.6 311.7h0M288.2 297.7h0M303 279.4h0M365.5 299.9h0M457.5 309.1h0M537.7 268.8h0M417.9 270.2h0M232.1 188.3h0M426.8 256.9h0M405 259.9h0M181.9 343.9h0M511 315.5h0M520 311.6h0M345.8 315.4h0M317.7 254.3h0M424.5 262.3h0M450.5 222.7h0M565 306.1h0M360 325.9h0M378.4 263.5h0M696.2 335.2h0M342.5 212.9h0M404.5 321.3h0M573 324.2h0M607.9 296.6h0M297.2 407.8h0M370.6 337.8h0M342 272.6h0M372.7 262.5h0M344.9 277.9h0M602.6 276.1h0M549.8 336.8h0M366.8 327.2h0M280 203.6h0M408.4 282.8h0M334.1 224.9h0M293.8 287.1h0M511.5 260.3h0M581.9 288.2h0M622.5 271.7h0M602.8 294h0M404.2 310.5h0M184.1 272.9h0M211.3 335.6h0M263 353.7h0M303.6 315.7h0M323.1 268.8h0M456.4 260h0M348.7 217h0M395.5 274.9h0M381.9 270.9h0M219.5 268.4h0M217 218.2h0M397.4 300.6h0M539.8 319.3h0M377.9 264.3h0M205.9 282.3h0M509.9 261h0M406.9 283.1h0M367.2 334.5h0M307.4 265.6h0M314.6 291.4h0M532.1 310.6h0M231.2 272.2h0M347 326.5h0M393.6 286.1h0M453.4 262.9h0M577.8 265.4h0M343.6 323.3h0M513.7 347.8h0M244.7 265.9h0M605.2 308.6h0M416.8 270.3h0M414.9 310.7h0M407.3 276.6h0M192.8 379h0M503.2 315.3h0M616.6 296.3h0M290 289.6h0M571.4 329.5h0M441.7 317.4h0M344.7 287.4h0M342.6 266.3h0M415.7 274.5h0M375.4 231.4h0M287.4 274h0M437.9 266h0M387.9 289.1h0M382 310.8h0M298 213.2h0M434.6 242.3h0M317.1 293h0M313.9 318h0M400.1 283.7h0M250.6 223.6h0M364.4 253.6h0M258.5 221.8h0M250 337.8h0M345.8 234.6h0M375.7 341.4h0M615.6 338h0M464.3 272.3h0M247.9 292.8h0M333.7 187.1h0M378.2 272.2h0M164.2 206.4h0M526.1 310.2h0M368.6 286h0M395.7 278.4h0M220.2 238.9h0M405.8 304.2h0M400.8 290.5h0M321.4 340h0M595 286.4h0M216.4 189.1h0M375.1 238.9h0M260.3 224.7h0M315.8 288.2h0M566.4 330.8h0M386.7 266.5h0M490.5 255.1h0M191.7 297.1h0M575.4 276.7h0M299.5 294.8h0M265.1 412.2h0M367 237.7h0M368.9 271.4h0M330.6 306.5h0M394.9 261.8h0M628.7 274h0M639 279.5h0M504.6 316.9h0M301.3 314h0M392 320.4h0M491.9 312.5h0M362.2 305.4h0M381.8 284.2h0M305.4 208h0M284.3 309.5h0M387.6 298.8h0M458.4 311.8h0M468 314.9h0M385.3 308.1h0M656.6 318h0M386.7 323.7h0M350.8 278.1h0M361 299.4h0M386.5 263.1h0M409.6 305.6h0M478.3 330.4h0M381.2 242.7h0M397.4 299.9h0M315 252.2h0M416.3 320.8h0M351.1 305.9h0M335.9 322.2h0M317.3 298.3h0M592.8 278.6h0M305.4 234.8h0M269 257.5h0M533 313.9h0M467.5 337.2h0M619.6 266.9h0M396.7 287h0M526.7 260.8h0M453.8 233.1h0M495.1 272.1h0M554.7 334h0M535.9 310.5h0M287.4 308.2h0M268.6 307h0M347.9 304.9h0M260.1 288.6h0M204 185.1h0M489.9 310.8h0M282.4 279.6h0M332.2 344.8h0M639.1 281.6h0M306.2 289h0M461.1 308.3h0M291.7 273.1h0M405 288.7h0M375.7 316.1h0M305.5 302.2h0M362.8 259.8h0M572.3 304.3h0M443.4 269.7h0M287.4 299.3h0M221.8 270.4h0M645 300h0M406.8 302.2h0M484.5 234.4h0M640.2 316.6h0M544.4 310.5h0M475 265h0M215.8 300.6h0M391.2 325.8h0M413.5 280.8h0M215.2 268h0M272.2 364.4h0M498.6 318.9h0M280.6 340.1h0M278.2 257.4h0M198.3 311.3h0M290.6 223.5h0M528.3 311.7h0M369 280.3h0M216.9 302.3h0M396.5 287.8h0M389.8 299.3h0M209 330.3h0M417 312.5h0M260.6 186.3h0M201.1 282.3h0M474.8 318.5h0M264.2 272.9h0M576.6 308.8h0M359.4 269.6h0M439.1 306.7h0M310 290.1h0M394.6 291.5h0M526.4 315.5h0M451.9 257.9h0M296 314.8h0M502.7 246.7h0M319.1 294.7h0M513.2 330.6h0M267.2 291.4h0M323.7 323.2h0M575.7 266.9h0M481.1 254.8h0M523.7 252.7h0M377.4 301.3h0M475 331.8h0M255.5 221.4h0M658 312.4h0M304.9 228.7h0M395.4 274.4h0M471.6 268.3h0M592.1 299.7h0M249.7 263.1h0M559.6 306.7h0M448.4 231h0M608.2 288.1h0M201.5 185.4h0M476 310.1h0M266.8 265.2h0M373 262.3h0M452.7 324.3h0M244.4 239.8h0M427.9 370.9h0M201.9 243.6h0M301.5 299.8h0M423 263h0M562 273.1h0M399.9 223.1h0M383.9 293.6h0M449.8 273.1h0M433.7 306.2h0M437.1 256h0M279.6 274.7h0M235.3 334h0M422.3 258.9h0M543 310h0M426.9 273.8h0M187.8 383.8h0M271.7 281.4h0M335.5 256.9h0M320.2 339.3h0M269.2 283h0M372.1 314.7h0M264.7 183.3h0M486.4 251.1h0M667.9 313.6h0M161.9 272.3h0M410.4 268.4h0M296.8 300.8h0M354.5 296h0M378.7 309.2h0M401.1 321.1h0M684.6 308.7h0M477.5 318.7h0M384.3 260.6h0M390.4 257.3h0M300.5 252h0M637 276.8h0M505.6 234.7h0M327 262.4h0M371.1 280.9h0M296.1 254.5h0M407.3 297.5h0M430.6 274.6h0M223.5 284.6h0M353.4 295.9h0M364.2 214.9h0M442.8 261.2h0M280 205.5h0M436.3 308.4h0M415.1 319.1h0M408.3 301.3h0M269 299.4h0M420.2 335.1h0M482.3 266.9h0M305.2 288.1h0M358.2 282.8h0M595 292h0M254.4 260.9h0M287 213.4h0M370.8 248.6h0M553 306.5h0M332.7 281h0M378.8 247.6h0M254.5 334.1h0M411.7 277h0M355.9 300.2h0M280.7 317.7h0M591.6 288.9h0M331.1 266.7h0M393.4 301.6h0M382.2 304.3h0M230.3 417h0M430.8 308.7h0M349.8 260.4h0M457.5 244.4h0M435.8 327h0M602.9 323.9h0M354.2 271h0M305.7 350.9h0M553.9 305.5h0M536.1 263.4h0M398 287.4h0M399.7 302.5h0M306.5 253.2h0M579.1 287h0M316 266.7h0M496.2 268.3h0M400.1 267.7h0M366.4 320.2h0M355.4 231.8h0M531.7 316.2h0M467.1 271.4h0M243.2 258.4h0M412.6 310.9h0M471.2 337.3h0M513.2 309.8h0M573.5 270.7h0M322.3 196.3h0M220 354.1h0M227.7 321.3h0M496.5 338.4h0M440.8 255.9h0M335.4 251.2h0M313.5 265.4h0M577.7 268.4h0M226 381.6h0M245.4 317.6h0M322.3 306.1h0M417.6 246.1h0M245.7 289.7h0M383.1 254.7h0M279.2 281.7h0M276.6 244.7h0M517 268.6h0M409.3 308.6h0M367.6 266.2h0M506.6 314.3h0M325.5 306.2h0M219.9 257.4h0M255 312h0M230.4 288.1h0M354.2 261.9h0M190.4 251.8h0M633.4 253.5h0M498.7 269.3h0M486.9 314.7h0M562 305.5h0M506.3 259.9h0M170.4 366.2h0M400.8 296.1h0M342.5 308.5h0M562.3 318.1h0M260.1 290.4h0M422.3 329.4h0M260.6 237.7h0M541.5 320.9h0M602.4 285.6h0M355.2 322.2h0M603.1 298.6h0M353.5 296.2h0M511 319.4h0M355.2 302.6h0M379.3 278.3h0M401.9 275.2h0M305.4 292.1h0M307.2 251.6h0M695.9 299.4h0M589.1 303.5h0M199.9 272.5h0M406.9 253.1h0M650.8 301h0M686.7 308.9h0M431.3 198.6h0M187.8 315h0M515.2 342.5h0M577.3 284.4h0M344 269.2h0M256.9 285.4h0M386.6 299.4h0M389.5 364.5h0M207.8 384.3h0M265.2 227.2h0M609.6 305.9h0M589.6 330.6h0M473.2 309.6h0M396.6 292.3h0M404.2 293.2h0M368 295.6h0M609.1 276.6h0M410.1 273.8h0M365.3 296.3h0M512.4 311.1h0M437.3 252.3h0M455.8 261.9h0M390.1 307.6h0M322.4 181h0M265.5 368h0M333.2 304.2h0M392.7 274.2h0M430.5 327h0M219 358.6h0M546.4 309.2h0M404 300.6h0M417 255.1h0M301.8 302.3h0M248.5 354.1h0M332.4 340.9h0M387 281.2h0M438.1 314.1h0M216.4 205h0M403.3 288.5h0M436.7 262.8h0M524.1 326.2h0M674.8 320.6h0M307.7 185.5h0M451.4 332.3h0M378.7 317.4h0M305.2 213.5h0M471.3 269.4h0M443.1 253.7h0M607.6 286.6h0M405.8 279.3h0M409.5 320.4h0M576.2 310.8h0M356.9 314.8h0M583.4 326h0M403.8 211.7h0M593.4 282.8h0M349.2 273.3h0M418.8 310.6h0M333 305.7h0M248 281.6h0M445.4 322.6h0M358.4 318.3h0M263.9 194.9h0M439.7 265h0M335.6 281.8h0M383.3 347.5h0M362.1 269.2h0M310.8 293.1h0M410.1 303h0M185.2 208.9h0M206.9 275.3h0M376.7 301.3h0M404.2 292.5h0M171.3 410.6h0M454 315.8h0M239.2 253.5h0M376.8 253.8h0M452 310.1h0M435.6 266.8h0M454.6 314.3h0M368.9 300.4h0M372.6 261.7h0M389.9 272.6h0M323.8 325.8h0M300.8 302.7h0M425.1 217.4h0M310.4 304.5h0M396.3 284.2h0M328.2 330h0M369 260.1h0M395 218.3h0M384.7 330.3h0M370.6 287h0M357.8 205.3h0M431.6 261.2h0M275 201.4h0M628 293.9h0M515.2 312.2h0M307.8 242.1h0M207.8 225.6h0M419.4 387.6h0M564.5 266.5h0M525 324.7h0M503 329.3h0M501.4 343h0M294.2 269.4h0M399.8 300.5h0M383 260.6h0M329.2 321.2h0M421.3 323.3h0M359.7 301.7h0M451.7 264.7h0M456.2 344.1h0M305.8 247.5h0M309.9 235.5h0M319.2 274.4h0M381.1 273.6h0M209.4 370.1h0M333.3 311.5h0M419.3 384.7h0M494.8 312.9h0M256.5 391.6h0M306.5 287.1h0M352.2 328.3h0M405.6 313.6h0M362 283.4h0M352.8 214.2h0M475.9 328.6h0M325.8 295.5h0M433.6 267.7h0M474.8 263.6h0M457 310.1h0M211.5 302.2h0M447.9 246.5h0M414.4 303.2h0M402.9 314.6h0M357.3 334.3h0M418.1 269.2h0M335.9 235h0M428.1 310.2h0M602.3 321.9h0M506.4 312.8h0M336.3 266.2h0M526.5 310.1h0M430.6 268.6h0M240.4 324.5h0M440.3 326.4h0M207 340.8h0M560.7 269h0M660.4 315.6h0M379 245.2h0M548.1 273.1h0M682.8 307h0M363.6 317.4h0M289.2 272.4h0M282.6 317.5h0M392.6 183.9h0M546.6 267.8h0M382.6 256.5h0M332.6 274.2h0M506.6 308.9h0M319.8 372.3h0M407.1 239.4h0M421.3 274.4h0M326.4 193.8h0M212.6 297.3h0M507.3 215.9h0M410.3 262.4h0M444.1 234.3h0M523.1 271.1h0M367.4 311.2h0M246 255.3h0M440.1 263.1h0M379.2 252.3h0M448.6 265.3h0M399.5 250.7h0M406.1 289.2h0M540.2 313.6h0M360.2 286.8h0M371.4 271.2h0M592.4 261.8h0M286.8 325.4h0M345.2 252.3h0M492.7 265.2h0M374.8 305.3h0M339.4 292.8h0M486.8 267.3h0M379.1 314.8h0M404.8 284.4h0M352.1 268.3h0M503.9 323.1h0M392.9 316.3h0M400.2 281.5h0M399.4 362.8h0M362.2 260.3h0M350.4 305h0M683.9 289.6h0M370.1 257.2h0M293.4 324h0M233.4 300.6h0M269.7 276.2h0M373.9 249.9h0M489.9 334.6h0M364 316h0M274.4 329.3h0M409.9 282h0M293.9 339.1h0M446.7 250h0M405.1 234.5h0M409.6 307.6h0M510.6 257.8h0M326.7 257.6h0M523.7 264.2h0M473.3 270.3h0M376.3 256.9h0M298.3 259.8h0M286.6 299.2h0M372.5 302.7h0M354.7 255.9h0M415.8 267.2h0M331.5 257.3h0M198.2 176.9h0M252.5 271.7h0M312.1 346.9h0M238.4 324.3h0M313.7 249.3h0M372.7 287.1h0M298.7 293.4h0M357.3 250.6h0M484 309.5h0M461.6 330.9h0M349 211.8h0M375.6 277.1h0M577 274.2h0M378.2 327.1h0M515.7 308.5h0M564 312.7h0M579 287h0M383.5 265.7h0M414.2 269.6h0M197.1 355.9h0M366.9 260.7h0M343.1 294.2h0M401.3 288.4h0M405.7 368.3h0M335.4 249.9h0M184.5 286.1h0M212.2 292.6h0M390.1 298.7h0M523.3 324.4h0M433.8 308.2h0M349.7 257.7h0M498.3 340.5h0M360.7 243.1h0M230.6 257.2h0M304.6 292.8h0M472.6 333.4h0M628.6 323.1h0M308.6 278.8h0M485.3 313.3h0M304.4 306.7h0M531.5 338.8h0M379.8 253.3h0M236.1 222.5h0M400.2 269.1h0M431.7 249.2h0M332.7 233.5h0M167.2 324h0M272.7 294.3h0M467.8 264.2h0M569.8 313.4h0M327.7 274.2h0M376.6 257.8h0M298.5 265.7h0M407.1 281h0M452 254.6h0M363 256.1h0M405.9 273.1h0M401.7 262.1h0M328.1 247.3h0M306.7 308.3h0M368.8 281.4h0M274.9 227.9h0M561.4 316.5h0M274.1 397.1h0M619.8 279h0M418.8 352.6h0M408.3 301.6h0M432.6 309h0M402.9 264.6h0M365.6 324.7h0M387.4 322.1h0M358.2 248.6h0M352.4 183.2h0M378.3 308.2h0M404.6 297.2h0M469.4 254.9h0M565.7 278h0M182 285.4h0M208.2 336.5h0M335.7 355.1h0M583.8 312.9h0M400 305.2h0M531.1 320h0M209.6 269.7h0M202.5 367.9h0M534.8 315.5h0M626.8 293.4h0M542.3 326.7h0M276.9 215.6h0M294.3 229.5h0M305.6 282.3h0M445.3 258.5h0M619.2 291.7h0M360.8 287.7h0M435 203.1h0M226.9 227.9h0M511.1 312.8h0M342.7 292.4h0M299.1 355.5h0M477.2 253.6h0M213.4 314.8h0M236.7 347.2h0M310.5 251.5h0M444.6 313.8h0M377.2 276.7h0M589.8 318.3h0M289.5 206.9h0M463.6 239.9h0M437.7 318h0M368.9 325.3h0M313.3 332.4h0M306.8 300.8h0M443.9 269.4h0M345.2 276.4h0M384.1 320.3h0M334.4 285.8h0M343.2 289.3h0M520.5 264.8h0M399.6 302.9h0M235.2 273.6h0M304.9 224.2h0M393.9 319.8h0M226.7 339.7h0M349.6 292.3h0M351.9 312.3h0M397.5 284h0M326.8 301.1h0M597.1 270.2h0M532.5 317.1h0M369 336.5h0M170.2 254.9h0M277 311.5h0M275 310.3h0M515.3 256.9h0M268.2 265.2h0M488.5 325.2h0M577.8 285h0M515.1 312h0M309.1 284.5h0M248 283.8h0M239.1 250.3h0M280.2 271.7h0M598 271.5h0M626.8 307.9h0M202.9 262.2h0M208.6 201.9h0M186.4 326.2h0M343.8 318.9h0M393.8 294.1h0M362.5 290.7h0M594.9 332.2h0M606.3 297.4h0M559.9 318.3h0M338.4 263.4h0M579.3 283h0M597.7 288.6h0M243.6 345.9h0M311 259.9h0M271 214.3h0M520.3 330.8h0M342 309.2h0M598.8 291.5h0M187.8 364.6h0M367 295.2h0M397.5 259.3h0M212.9 211.2h0M284.6 296.9h0M358.2 312.1h0M484.8 217h0M606.5 296h0M428.8 251.5h0M346.9 242.6h0M523.2 311.4h0M436.9 273.9h0M315.5 295.1h0M348.4 290.9h0M371.6 287.1h0M451.3 239.7h0M375.4 256.8h0M275.1 307.6h0M313 260.8h0M267.4 308.2h0M442.6 217.6h0M461.7 248.8h0M489.3 314.2h0M204.6 251.5h0M591.9 273.3h0M322.5 280.5h0M288.2 291.6h0M243.3 249.5h0M586.6 277.8h0M229.4 301.2h0M536.1 310.9h0M405 280.6h0M330.8 264.4h0M367.9 257.1h0M219.1 290.9h0M335.1 246.7h0M536.5 310.8h0M470.8 259.5h0M445.1 260h0M368.4 190h0M247.3 286.7h0M366.8 295.8h0M446.6 249.8h0M365.7 299.5h0M201.7 221.6h0M395.8 280.1h0M401.2 300.2h0M426.1 253.3h0M540.3 316.9h0M481 337.4h0M211.5 323.4h0M315.9 258.3h0M284.3 252.3h0M608.7 305.5h0M406.1 309.8h0M395.3 236.6h0M309.2 310.4h0M201.7 304.2h0M259.9 266.8h0M307.6 343h0M475.1 309.8h0M284.4 264.1h0M397.3 270.3h0M409.9 274.3h0M333.3 264.4h0M272.5 299.3h0M204.1 208.6h0M296.7 304.3h0M368.9 332.7h0M451.5 261.6h0M321.2 251.3h0M172.3 370h0M543 271h0M480.7 256.8h0M609.6 289.4h0M367.6 302.4h0M580.9 321h0M354.2 301.4h0M405.5 304.6h0M317.8 257.6h0M179.4 322.8h0M524 264h0M425.8 252.4h0M412.9 256.6h0M486.9 310.7h0M467.9 316.8h0M339.5 333.8h0M362.7 242.5h0M399.3 277.4h0M327.4 283.2h0M287.7 374.6h0M635.5 293.9h0M267.8 329.5h0M494.5 323.1h0M320 308.7h0M287.9 225.8h0M261.4 346.5h0M365.8 292.5h0M216 323.7h0M400.2 267.6h0M438.6 329h0M411.7 282.9h0M373.9 352.2h0M380.6 300.1h0M278.1 350h0M408.6 301h0M188.8 279.7h0M530.8 308.9h0M468.7 308.8h0M280.7 235.4h0M198.3 312.7h0M335.5 268.3h0M399.6 329.8h0M437.5 256.5h0M427.7 307.8h0M434.5 263h0M469.7 309.4h0M608.9 291.2h0M414 300.7h0M381.6 307h0M460.3 266.4h0M372.7 280.3h0M341.2 298.2h0M317.8 264.8h0M313.8 214.1h0M223.1 292.4h0M542.5 260.8h0M366.4 299.5h0M431.6 319.8h0M296.1 378.8h0M309.4 302.7h0M252.2 284h0M349.1 331.9h0M346.4 190.4h0M163.3 230.7h0M667.6 295.5h0M457.7 270.1h0M375.6 262.2h0M428.2 233.2h0M438.6 305.9h0M379.1 276.1h0M392.3 285.6h0M401.5 301.2h0M418.4 314.5h0M390.1 300.8h0M336.2 310.8h0M211.5 266.8h0M191.9 395.2h0M530.1 307.9h0M427.9 303.4h0M318.2 239.6h0M552.6 330.8h0M336.4 297.8h0M299.4 380.7h0M393.5 286.8h0M286.3 277.5h0M354.9 255.8h0M448 256.9h0M229.4 223.6h0M397.9 293.2h0M346.1 297.7h0M323.5 240.7h0M329.7 289.2h0M382.3 322.3h0M409 307h0M505.5 271.1h0M402.1 254.2h0M492.5 221.8h0M344.5 258.6h0M552.6 314h0M523.4 254.6h0M613.5 308.7h0M413.5 308.7h0M249.9 293.3h0M445.2 344.8h0M226.8 406.3h0M516.2 369.6h0M617.1 299.1h0M559.8 305.2h0M456.3 267.8h0M511 264.6h0M337 297.1h0M473.5 267.6h0M416.2 241.3h0M574.6 273.6h0M489.7 344.1h0M243.4 172h0M401.7 318.3h0M180.6 389.7h0M373.2 282.8h0M648.2 279h0M271.7 341.3h0M320.8 301.5h0M539.5 258h0M421.2 321.7h0M416.8 340.1h0M411.2 306.8h0M415.1 341.9h0M169.1 249.6h0M204.2 383.8h0M248.5 334.4h0M564.5 274.4h0M184.8 353.9h0M256.8 335.1h0M361.8 282.2h0M346.7 337.8h0M228.9 272.3h0M427.6 313.5h0M406.3 250.3h0M181.8 376.9h0M400.7 299.6h0M354.6 288h0M393.9 279.1h0M378 303.1h0M438.3 267.7h0M375.5 297.4h0M227.5 225.2h0M187.2 359.3h0M384.7 283.4h0M241.2 279.4h0M403.2 306.2h0M465.2 246.7h0M357.9 250.9h0M540.7 310.5h0M238.3 363.5h0M354.9 320.2h0M395.9 307.6h0M246.9 279.7h0M519.7 313.7h0M371.7 264.6h0M267.3 228.1h0M272 353.1h0M250.1 193.4h0M508.3 312.6h0M258.8 297.7h0M279 186.9h0M266.5 291.6h0M364.1 249.4h0M619.4 310.8h0M413.6 354.4h0M418.1 313h0M563.3 266.2h0M216.8 267.7h0M599.8 288h0M287.8 261.4h0M434.8 273.4h0M372.6 283.1h0M298.9 277.7h0M335.9 309.9h0M387.6 324.8h0M370.8 298.3h0M477.6 251.6h0M373 251.3h0M526.2 322.7h0M230.9 265.3h0M605.8 336.6h0M466.9 351.7h0M603.4 308.3h0M406.7 292.1h0M428.2 311.4h0M241.5 296.8h0M253.9 254.3h0M266 309.7h0M375 308h0M401.9 276h0M390.6 259h0M418.8 272.3h0M326 312.9h0M222.8 247.3h0M348.7 293.4h0M284.7 276.4h0M456.9 269.1h0M386.7 313.8h0M241.7 297.6h0M417.6 254.5h0M437.4 271h0M312.9 264.1h0M329.9 336.8h0M390.5 307.8h0M591.6 288.1h0M380.5 286.5h0M320.7 220.2h0M243.6 271.9h0M259.3 327.9h0M375.8 297.3h0M357.5 367.7h0M364.5 232.9h0M458.8 258.2h0M346.4 271.2h0M178.3 259.6h0M420.2 318.4h0M500.8 310.5h0M339.6 287.3h0M444.8 251.8h0M367.3 285.6h0M385.1 248.2h0M259.4 246.3h0M372.5 224.9h0M547.2 315.8h0M709.5 308.8h0M605.1 288.2h0M382.8 313.6h0M271.1 303.2h0M344.5 303.9h0M349.5 293.1h0M391.9 261.1h0M456.4 249.5h0M210 204.5h0M407 322.4h0M469.5 324.8h0M545.2 309.5h0M182.8 300.2h0M243.7 349.1h0M187.9 233.1h0M322 225h0M387.1 296.2h0M237.4 337.7h0M353.9 341h0M564.2 279.6h0M401.1 287.5h0M477.6 269.1h0M388.7 271.8h0M405.8 334.5h0M242.7 198h0M515.3 238.7h0M445.6 264.8h0M225 248.2h0M449.8 263.3h0M385.1 285.7h0M340.3 297h0M173 309h0M234.3 315.9h0M329.7 274.3h0M439.8 241.6h0M400.1 314.3h0M301 305.2h0M296.6 317.9h0M291.7 315h0M237.7 181.5h0M360 276.3h0M335.1 307.5h0M260.4 257h0M286.2 304.4h0M437 228.3h0M345.7 289.5h0M581.3 282.8h0M406.6 251.8h0M462.2 262.2h0M400.4 290h0M375.8 323.6h0M407.6 300.6h0M605 291.7h0M199.4 282.8h0M357.4 241.3h0M592.1 293.9h0M327.4 303.4h0M394.5 338.3h0M294.8 246.5h0M349.1 288.1h0M164.6 179.5h0M458.9 202.8h0M201.2 245.1h0M449.7 201.4h0M333.4 265h0M450.3 327.2h0M404.6 268.4h0M257.6 244.3h0M351.4 333.3h0M408.4 264.6h0M289.6 279h0M329.7 302h0M482.3 227.7h0M259.1 290.9h0M295.6 274.8h0M290.4 281.6h0M399.1 289.4h0M194 405.4h0M248.5 233.9h0M311.1 232.1h0M563.6 276.5h0M594 305.5h0M602.5 319h0M373.4 313.9h0M586.6 314.3h0M675.9 281.8h0M277.9 285.5h0M255.1 294.9h0M590.5 339.5h0M275.1 266.8h0M251.5 319.3h0M189.5 213.3h0M354.7 296.7h0M343 305.2h0M318.7 316.1h0M487.1 314.5h0M333.7 217.7h0M296.6 305.1h0M599.4 295.2h0M377.6 268h0M189.9 310.4h0M488.9 258.1h0M137.5 166.5h0M136.6 172.9h0M155.2 167.2h0M155 179.4h0M155 180.2h0M151.5 188.5h0M150.2 197.1h0M150.9 202.6h0M158 207.2h0M147.5 210h0M143.5 218.8h0M140.6 223.5h0M157.2 220.4h0M146 234.8h0M154.8 235.9h0M149.2 240.8h0M153.8 244h0M154.8 244.8h0M148.5 246.4h0M142.9 247.5h0M132.2 252.8h0M128.1 259.4h0M135 257.8h0M147.9 257.8h0M148.5 262.2h0M159.4 264.4h0M86.8 266.5h0M94.5 274.4h0M100.6 274.1h0M151 274.8h0M153.1 273.1h0M157.9 281.9h0M152.8 285h0M102.2 286.2h0M118.8 285.9h0M151.2 291.2h0M124.1 296.5h0M155.9 295.6h0M157.8 299h0M123.4 302.2h0M136.9 302h0M138.1 304.5h0M144 301h0M159.4 304h0M110.6 309h0M121.9 311.9h0M150.2 309.5h0M159.1 311.2h0M157.2 313.8h0M158.8 316h0M85.4 313.5h0M91 317.9h0M97.2 319.6h0M144.8 315.4h0M150.6 317.1h0M153.8 320.4h0M124.1 320.2h0M138.8 321.9h0M86 325h0M145.4 325.8h0M141.2 328.8h0M157.9 327.5h0M94.4 333.1h0M122.2 335.2h0M132.8 332.8h0M143.5 333.1h0M143.5 336.2h0M151.5 334.8h0M157.2 330.6h0M157.5 338.8h0M156.5 341.6h0M101.9 343h0M100.6 345.6h0M134 346.9h0M147.2 345.6h0M148.8 344.6h0M156.5 349h0M127.5 351h0M149.2 352h0M122.5 359.6h0M141.2 360h0M145 357.5h0M148.5 361h0M134 363.8h0M128 366.6h0M144.1 372.8h0M151.2 375h0M151.2 377.5h0M150.2 383.5h0M147.9 389.5h0M155.8 388.5h0M146.2 396.5h0M142.5 401.9h0M126.6 406.9h0M159.4 406.2h0M156.9 414.4h0M138.8 417.9h0M138.1 423.5h0M151.2 428.5h0M140 434.6h0M126.2 440h0M159.4 445.2h0M158.8 459.8h0M138.4 461.2h0M157.5 470.9h0M550.2 151.8h0M566 196.2h0M569.6 207.8h0M571.5 218.4h0M550.4 221.4h0M530.8 221h0M533.6 227.5h0M567 227.4h0M597.2 218.7h0M611.8 216h0M587.9 224.5h0M602 231.9h0M536.4 236h0M547.7 233.2h0M548 234.8h0M556.7 233.4h0M567.8 239h0M542.8 242h0M533.8 243.6h0M536 244.8h0M542 247.5h0M552.5 246h0M562.7 246h0M569.8 246h0M570.8 247.5h0M604.4 249.4h0M538.5 342.8h0M538 345.8h0M530.2 342.5h0M559.5 344.5h0M576.3 345.2h0M582.3 344.5h0M590 344h0M604.8 343h0M632 341.9h0M585.4 358h0M560.5 368.3h0M582.8 368.3h0M588 374.3h0M585.3 379.7h0M534.5 376.2h0M656.2 340.4h0M676.9 338.2h0M176.9 78.5h0M230 89.2h0M187.9 91.3h0M189.1 97.6h0M201.8 97.9h0M228.4 101.8h0M209.8 104.8h0M230.8 107.1h0M272.6 105.6h0M263.8 109h0M232 115.4h0M188.5 118.2h0M226.4 119.1h0M231.4 119.7h0M232.6 120.8h0M264.8 117.8h0M261.1 122.8h0M167.2 128.3h0M181 128.6h0M209.5 126.1h0M250.7 127.5h0M267.1 127.8h0M231.7 132.7h0M174.6 136.8h0M192 134.6h0M194.9 136.4h0M193.1 139h0M252.7 136.4h0M263 135h0M273.1 134.7h0M274.9 137h0M277.2 135.8h0M280.3 134.4h0M197.7 143.3h0M251 141.6h0M256.9 140.8h0M211.6 144.7h0M217.9 147.3h0M219.5 146.4h0M245.5 144.5h0M247 145.7h0M194.3 148.2h0M235.2 148.2h0M256.1 148h0M257.2 149h0M263.1 148.7h0M268.4 147.1h0M279.5 148.7h0M177.6 153.6h0M209 154h0M209.5 156h0M222.5 154.6h0M227.9 154.6h0M228.5 155.7h0M236.6 154.5h0M256.2 159.7h0M270.6 161.5h0M179.3 162.3h0M186.7 161.5h0M189.1 162h0M207.8 162.8h0M211 162.8h0M196 165h0M212.9 166.6h0M222.5 166.6h0M222.5 168.1h0M188.3 168.4h0M192.5 168.1h0M196.5 168.7h0M173.8 169h0M243.5 168h0M292 93.3h0M292 97.9h0M301.5 91.8h0M342.7 107.4h0M291.2 126.7h0M306.5 126.4h0M298.9 130.6h0M341.5 133.6h0M381.9 130.1h0M287.4 137.3h0M292.4 143.9h0M366 142.4h0M395.1 139.3h0M326 147.3h0M304.2 150h0M337.5 152.2h0M292.1 154.6h0M331 163.4h0M282.8 165h0M287.4 165.8h0M288.1 165.4h0M284.3 168.4h0M307.3 168.7h0M318 168.7h0M387.4 168.1h0M397 168.1h0M435.9 140.5h0M449 145.7h0M407.1 149.7h0M498.2 140.1h0M503.2 144.7h0M465.3 165h0M183.8 419.8h0M187.6 418.8h0M204.4 418.8h0M211.8 421.1h0M228.7 420.3h0M272.6 418.8h0M169.5 424.9h0M175.8 423.8h0M176.6 428.1h0M172 431.2h0M184.1 429.5h0M192.6 427.2h0M184.1 434h0M162.8 434h0M232 426.6h0M247.7 423.5h0M257 424h0M255.8 426.9h0M251.8 430.1h0M248.9 431.8h0M275.2 422.8h0M276.5 429.5h0M273.1 431h0M277.2 433.8h0M217.2 434.9h0M202.1 440.7h0M235.9 438.4h0M238.2 439.9h0M242.4 438.4h0M281.1 439.5h0M160.5 445.3h0M191.1 445.7h0M196.8 445.3h0M230 450.2h0M176.1 452.5h0M165.1 457.1h0M171.5 459.7h0M177.6 459.8h0M188.8 460.6h0M227.9 459.5h0M246.3 460h0M281.1 459.1h0M262.4 463.5h0M167.2 467h0M216.1 466.4h0M242.3 469.8h0M258.1 469.5h0M278.5 468h0M266.2 473.2h0M222.8 476.2h0M219.5 479.9h0M248.1 479.9h0M247.4 482.7h0M235.6 483.9h0M350.2 419.5h0M319.5 423.8h0M308 425.7h0M286.6 430.3h0M339 427.2h0M366 428.7h0M378.6 431h0M357.1 434.4h0M374 436.1h0M377.3 436.1h0M306.2 435.6h0M284.8 437.3h0M323.1 438.4h0M302.7 446.5h0M295 453.2h0M299.2 452.2h0M293.5 460.5h0M294 463.2h0M308.1 461.5h0M396.9 458.2h0M398.9 459.1h0M315.2 468.1h0M299.9 472.4h0M358.6 469.8h0M288.9 489.4h0M299.3 494.3h0M416.7 420h0M424 418.5h0M509 428.4h0M513.3 429.5h0M485.2 482.4h0M176.6 77.8h0M247.3 81h0M247.5 80.5h0M175.6 502.2h0M190 501.2h0M193.8 504.4h0M219.4 505.6h0M303.8 500.6h0M303.5 504h0" stroke="#878787" stroke-width="2.7" stroke-linecap="round" fill="none"/>
<path d="M157.8 74.4l1.9 3.4h-3.8zM180.6 74.4l1.9 3.4h-3.8zM185.4 74.4l1.9 3.4h-3.8zM189.4 74.4l1.9 3.4h-3.8zM197.5 74.4l1.9 3.4h-3.8zM200.6 74.4l1.9 3.4h-3.8zM204 74.4l1.9 3.4h-3.8zM235 74.4l1.9 3.4h-3.8zM255 74.4l1.9 3.4h-3.8zM281.9 74.4l1.9 3.4h-3.8zM285 74.4l1.9 3.4h-3.8zM360.6 74.4l1.9 3.4h-3.8zM406.9 74.4l1.9 3.4h-3.8zM153.5 511.2l1.9 -3.4h-3.8zM183.1 511.2l1.9 -3.4h-3.8zM190 511.2l1.9 -3.4h-3.8zM193.8 511.2l1.9 -3.4h-3.8zM202.5 511.2l1.9 -3.4h-3.8zM204.4 511.2l1.9 -3.4h-3.8zM215 511.2l1.9 -3.4h-3.8zM216.9 511.2l1.9 -3.4h-3.8zM239.4 511.2l1.9 -3.4h-3.8zM240 511.2l1.9 -3.4h-3.8zM258.1 511.2l1.9 -3.4h-3.8zM265 511.2l1.9 -3.4h-3.8zM308.8 511.2l1.9 -3.4h-3.8z" stroke="#878787" stroke-width="1" fill="none"/>
<path d="M234.2 78.3h0M248 92.5h0M244.7 113h0M265.2 116.3h0M302.7 92.3h0M314 94h0M329 92h0M326.3 98.3h0M340.7 78.8h0M342.8 95h0M340.2 96.5h0M342.8 104.7h0M342.2 115.5h0M314 113h0M299.4 118.2h0M306.8 123h0M343.5 130h0M343.2 140.2h0M349.7 126h0M302 148h0M324.5 152h0M322.7 153.7h0M320.3 160h0M279.8 157h0M336.2 161.2h0M333.2 163.2h0M348.2 162h0M397.2 83.3h0M409.8 80h0M446.7 82.2h0M368 93.5h0M374.2 94.5h0M452 98h0M414 101.5h0M451.2 107h0M456.7 107.7h0M364 111h0M393.2 110.7h0M352.2 116.7h0M417 118h0M418.5 119h0M357.3 124.2h0M350.5 126h0M396.2 124.8h0M416.1 126h0M386.5 128.5h0M450.7 134h0M407.8 138h0M412.6 143.7h0M421.5 143.2h0M406.2 146.2h0M378.9 144.7h0M351.5 165.7h0M359.7 166h0M455.7 167h0M518.4 107.3h0M520 129.6h0M500.7 149.2h0M500.7 158h0M308.7 172h0M330.8 175h0M332.9 175.8h0M343.7 183.6h0M344.7 187.6h0M284.3 189.1h0M305.3 196.5h0M358.8 168.8h0M397.2 170.7h0M443.7 178h0M452.5 178h0M356 181.2h0M357 189.3h0M355.8 191.7h0M366.4 192.4h0M374.5 189.1h0M383.7 186.5h0M391.5 186.5h0M394.2 186h0M403.8 183.8h0M442.2 198.3h0M460.5 197.2h0M464.2 207h0M399 201h0M404.7 204.6h0M428.2 202.8h0M361.2 205.2h0M361.8 213.4h0M369.7 215h0M398.2 218h0M403.2 220.5h0M406.5 229.5h0M438.7 254.5h0M487.7 213.3h0M482 247.5h0M534.8 247.2h0M566 252h0M495 256.8h0M453.8 263h0M459.8 267.5h0M490.2 267h0M496.2 271.8h0M501 269.8h0M507.8 269.2h0M513 266.8h0M582 272.4h0M328.7 440h0M331.2 443.8h0M269 457h0M314.3 461.3h0M317 471.2h0M285.8 473.5h0M330.8 477.6h0M237.2 482.5h0M265.5 487.2h0M298.7 489h0M310.2 498h0M353.7 439.4h0M386 433.5h0M399.8 430.7h0M430.5 429.5h0M372.9 451h0M440 465.2h0M394 474.5h0M352.2 489.5h0M357 372.8h0M389 407h0M341 400.5h0M337 408.5h0M534 314.8h0M557 317.5h0M552.2 340.5h0M478.4 363.5h0M500.8 394h0M694.3 331.4h0M467.6 455.4h0M340.6 78h0M351.5 77.5h0M410 79.9h0M397.5 83h0M446.9 82.4h0M235 77.8h0M324 505.6h0M344.8 502.2h0" stroke="#0000ff" stroke-width="2.7" stroke-linecap="round" fill="none"/>
<path d="M213.8 74.4l1.9 3.4h-3.8zM216.9 74.4l1.9 3.4h-3.8zM220 74.4l1.9 3.4h-3.8zM223.1 74.4l1.9 3.4h-3.8zM244.4 74.4l1.9 3.4h-3.8zM248.5 74.4l1.9 3.4h-3.8zM257.5 74.4l1.9 3.4h-3.8zM260.6 74.4l1.9 3.4h-3.8zM265.6 74.4l1.9 3.4h-3.8zM275 74.4l1.9 3.4h-3.8zM293.1 74.4l1.9 3.4h-3.8zM300 74.4l1.9 3.4h-3.8zM305 74.4l1.9 3.4h-3.8zM310 74.4l1.9 3.4h-3.8zM312.5 74.4l1.9 3.4h-3.8zM318.1 74.4l1.9 3.4h-3.8zM320.6 74.4l1.9 3.4h-3.8zM325 74.4l1.9 3.4h-3.8zM331 74.4l1.9 3.4h-3.8zM335 74.4l1.9 3.4h-3.8zM340 74.4l1.9 3.4h-3.8zM343 74.4l1.9 3.4h-3.8zM345.6 74.4l1.9 3.4h-3.8zM351.5 74.4l1.9 3.4h-3.8zM355 74.4l1.9 3.4h-3.8zM371.3 74.4l1.9 3.4h-3.8zM375 74.4l1.9 3.4h-3.8zM382.5 74.4l1.9 3.4h-3.8zM388.8 74.4l1.9 3.4h-3.8zM394.4 74.4l1.9 3.4h-3.8zM398.8 74.4l1.9 3.4h-3.8zM401.9 74.4l1.9 3.4h-3.8zM410 74.4l1.9 3.4h-3.8zM427.5 74.4l1.9 3.4h-3.8zM431.3 74.4l1.9 3.4h-3.8zM439.4 74.4l1.9 3.4h-3.8zM441 74.4l1.9 3.4h-3.8zM451 74.4l1.9 3.4h-3.8zM462.8 74.4l1.9 3.4h-3.8zM470 74.4l1.9 3.4h-3.8zM476 74.4l1.9 3.4h-3.8zM487.8 74.4l1.9 3.4h-3.8zM501.2 74.4l1.9 3.4h-3.8zM513.5 74.4l1.9 3.4h-3.8zM198.8 511.2l1.9 -3.4h-3.8zM244.4 511.2l1.9 -3.4h-3.8zM253.1 511.2l1.9 -3.4h-3.8zM267.5 511.2l1.9 -3.4h-3.8zM271.2 511.2l1.9 -3.4h-3.8zM288.8 511.2l1.9 -3.4h-3.8zM294.4 511.2l1.9 -3.4h-3.8zM301.9 511.2l1.9 -3.4h-3.8zM304.4 511.2l1.9 -3.4h-3.8zM322.5 511.2l1.9 -3.4h-3.8zM327.5 511.2l1.9 -3.4h-3.8zM331.2 511.2l1.9 -3.4h-3.8zM335 511.2l1.9 -3.4h-3.8zM338.8 511.2l1.9 -3.4h-3.8zM342 511.2l1.9 -3.4h-3.8zM361 511.2l1.9 -3.4h-3.8zM366.9 511.2l1.9 -3.4h-3.8zM370.6 511.2l1.9 -3.4h-3.8zM392.5 511.2l1.9 -3.4h-3.8zM396.2 511.2l1.9 -3.4h-3.8zM407.5 511.2l1.9 -3.4h-3.8zM415 511.2l1.9 -3.4h-3.8zM428.8 511.2l1.9 -3.4h-3.8zM444.8 511.2l1.9 -3.4h-3.8zM463.1 511.2l1.9 -3.4h-3.8z" stroke="#0000ff" stroke-width="1" fill="none"/>
<line x1="59.04" y1="292.80" x2="769.76" y2="292.80" stroke="#4d4d4d" stroke-width="3"/>
<rect x="59.04" y="59.04" width="710.72" height="467.52" fill="none" stroke="#000" stroke-width="0.75"/>
<g stroke="#000" stroke-width="0.75">
<line x1="113.40" y1="526.56" x2="753.69" y2="526.56"/>
<line x1="59.04" y1="82.00" x2="59.04" y2="503.60"/>
<line x1="113.40" y1="526.56" x2="113.40" y2="533.76"/><line x1="204.87" y1="526.56" x2="204.87" y2="533.76"/><line x1="296.34" y1="526.56" x2="296.34" y2="533.76"/><line x1="387.81" y1="526.56" x2="387.81" y2="533.76"/><line x1="479.28" y1="526.56" x2="479.28" y2="533.76"/><line x1="570.75" y1="526.56" x2="570.75" y2="533.76"/><line x1="662.22" y1="526.56" x2="662.22" y2="533.76"/><line x1="753.69" y1="526.56" x2="753.69" y2="533.76"/><line x1="59.04" y1="82.00" x2="51.84" y2="82.00"/><line x1="59.04" y1="187.40" x2="51.84" y2="187.40"/><line x1="59.04" y1="292.80" x2="51.84" y2="292.80"/><line x1="59.04" y1="398.20" x2="51.84" y2="398.20"/><line x1="59.04" y1="503.60" x2="51.84" y2="503.60"/></g>
<g font-size="12" text-anchor="middle" fill="#000"><text x="113.40" y="553">1e-01</text><text x="204.87" y="553">1e+00</text><text x="296.34" y="553">1e+01</text><text x="387.81" y="553">1e+02</text><text x="479.28" y="553">1e+03</text><text x="570.75" y="553">1e+04</text><text x="662.22" y="553">1e+05</text><text x="753.69" y="553">1e+06</text><text transform="translate(42,82.00) rotate(-90)">0.4</text><text transform="translate(42,187.40) rotate(-90)">0.2</text><text transform="translate(42,292.80) rotate(-90)">0.0</text><text transform="translate(42,398.20) rotate(-90)">-0.2</text><text transform="translate(42,503.60) rotate(-90)">-0.4</text>
<text x="414.4" y="582">mean of normalized counts</text>
<text transform="translate(12.7,293.4) rotate(-90)">log fold change</text>
</g>
<text x="414.4" y="35" font-size="14.4" font-weight="bold" text-anchor="middle">Continuous (Artery validation): MA Plot for Platelet.distribution.width</text>
</svg>
</body></html>
